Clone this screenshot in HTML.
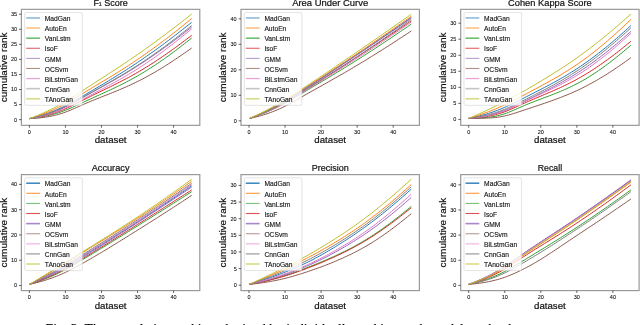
<!DOCTYPE html><html><head><meta charset="utf-8"><style>html,body{margin:0;padding:0;background:#fff;width:640px;height:325px;overflow:hidden}svg{display:block;will-change:transform}</style></head><body><svg width="640" height="325" viewBox="0 0 640 325">
<rect width="640" height="325" fill="#fff"/>
<polyline points="29.40,118.62 31.20,118.19 33.00,117.74 34.81,117.28 36.61,116.79 38.41,116.29 40.21,115.76 42.02,115.21 43.82,114.64 45.62,114.04 47.42,113.42 49.23,112.77 51.03,112.10 52.83,111.40 54.63,110.68 56.44,109.92 58.24,109.14 60.04,108.33 61.84,107.48 63.65,106.61 65.45,105.71 67.25,104.78 69.06,103.83 70.86,102.85 72.66,101.85 74.46,100.84 76.27,99.81 78.07,98.78 79.87,97.73 81.67,96.69 83.47,95.63 85.28,94.58 87.08,93.53 88.88,92.47 90.69,91.42 92.49,90.36 94.29,89.30 96.09,88.24 97.90,87.18 99.70,86.11 101.50,85.05 103.30,83.97 105.10,82.90 106.91,81.82 108.71,80.73 110.51,79.64 112.31,78.54 114.12,77.44 115.92,76.33 117.72,75.22 119.53,74.09 121.33,72.97 123.13,71.83 124.93,70.68 126.73,69.53 128.54,68.37 130.34,67.20 132.14,66.03 133.94,64.84 135.75,63.65 137.55,62.44 139.35,61.23 141.16,60.01 142.96,58.78 144.76,57.54 146.56,56.29 148.37,55.03 150.17,53.77 151.97,52.49 153.77,51.21 155.57,49.92 157.38,48.61 159.18,47.31 160.98,45.99 162.78,44.66 164.59,43.32 166.39,41.98 168.19,40.63 170.00,39.27 171.80,37.90 173.60,36.53 175.40,35.14 177.21,33.75 179.01,32.36 180.81,30.95 182.61,29.54 184.41,28.12 186.22,26.70 188.02,25.27 189.82,23.84 191.62,22.40" fill="none" stroke="#1f77b4" stroke-width="1.0" stroke-opacity="1.0" stroke-linejoin="round"/>
<polyline points="29.40,118.64 31.20,118.09 33.00,117.52 34.81,116.94 36.61,116.34 38.41,115.73 40.21,115.09 42.02,114.43 43.82,113.75 45.62,113.05 47.42,112.32 49.23,111.57 51.03,110.80 52.83,110.00 54.63,109.18 56.44,108.33 58.24,107.46 60.04,106.56 61.84,105.63 63.65,104.67 65.45,103.69 67.25,102.69 69.06,101.66 70.86,100.61 72.66,99.55 74.46,98.48 76.27,97.40 78.07,96.31 79.87,95.21 81.67,94.12 83.47,93.02 85.28,91.93 87.08,90.84 88.88,89.75 90.69,88.67 92.49,87.58 94.29,86.50 96.09,85.42 97.90,84.35 99.70,83.27 101.50,82.19 103.30,81.10 105.10,80.02 106.91,78.93 108.71,77.84 110.51,76.75 112.31,75.65 114.12,74.55 115.92,73.44 117.72,72.32 119.53,71.20 121.33,70.06 123.13,68.93 124.93,67.78 126.73,66.62 128.54,65.45 130.34,64.28 132.14,63.09 133.94,61.90 135.75,60.69 137.55,59.47 139.35,58.24 141.16,57.01 142.96,55.76 144.76,54.50 146.56,53.23 148.37,51.95 150.17,50.66 151.97,49.36 153.77,48.05 155.57,46.73 157.38,45.41 159.18,44.07 160.98,42.72 162.78,41.37 164.59,40.00 166.39,38.63 168.19,37.25 170.00,35.86 171.80,34.46 173.60,33.05 175.40,31.63 177.21,30.21 179.01,28.78 180.81,27.34 182.61,25.89 184.41,24.43 186.22,22.97 188.02,21.51 189.82,20.04 191.62,18.56" fill="none" stroke="#ff7f0e" stroke-width="1.0" stroke-opacity="1.0" stroke-linejoin="round"/>
<polyline points="29.40,118.60 31.20,118.41 33.00,118.20 34.81,117.98 36.61,117.73 38.41,117.46 40.21,117.17 42.02,116.85 43.82,116.51 45.62,116.15 47.42,115.75 49.23,115.34 51.03,114.90 52.83,114.43 54.63,113.93 56.44,113.40 58.24,112.84 60.04,112.24 61.84,111.62 63.65,110.95 65.45,110.26 67.25,109.54 69.06,108.78 70.86,108.01 72.66,107.21 74.46,106.39 76.27,105.56 78.07,104.73 79.87,103.89 81.67,103.04 83.47,102.20 85.28,101.36 87.08,100.52 88.88,99.69 90.69,98.86 92.49,98.04 94.29,97.22 96.09,96.40 97.90,95.58 99.70,94.76 101.50,93.94 103.30,93.11 105.10,92.29 106.91,91.46 108.71,90.62 110.51,89.78 112.31,88.93 114.12,88.08 115.92,87.21 117.72,86.34 119.53,85.46 121.33,84.56 123.13,83.66 124.93,82.74 126.73,81.81 128.54,80.86 130.34,79.91 132.14,78.93 133.94,77.94 135.75,76.93 137.55,75.91 139.35,74.87 141.16,73.82 142.96,72.74 144.76,71.65 146.56,70.55 148.37,69.42 150.17,68.28 151.97,67.12 153.77,65.95 155.57,64.76 157.38,63.55 159.18,62.33 160.98,61.09 162.78,59.84 164.59,58.57 166.39,57.29 168.19,55.99 170.00,54.68 171.80,53.36 173.60,52.02 175.40,50.67 177.21,49.31 179.01,47.93 180.81,46.54 182.61,45.14 184.41,43.73 186.22,42.32 188.02,40.89 189.82,39.45 191.62,38.01" fill="none" stroke="#2ca02c" stroke-width="1.0" stroke-opacity="1.0" stroke-linejoin="round"/>
<polyline points="29.40,118.59 31.20,118.34 33.00,118.08 34.81,117.79 36.61,117.48 38.41,117.15 40.21,116.79 42.02,116.41 43.82,116.00 45.62,115.56 47.42,115.10 49.23,114.61 51.03,114.09 52.83,113.55 54.63,112.97 56.44,112.36 58.24,111.71 60.04,111.04 61.84,110.32 63.65,109.57 65.45,108.79 67.25,107.98 69.06,107.13 70.86,106.27 72.66,105.38 74.46,104.48 76.27,103.56 78.07,102.64 79.87,101.72 81.67,100.80 83.47,99.89 85.28,98.97 87.08,98.07 88.88,97.17 90.69,96.28 92.49,95.39 94.29,94.51 96.09,93.64 97.90,92.77 99.70,91.90 101.50,91.03 103.30,90.16 105.10,89.28 106.91,88.41 108.71,87.54 110.51,86.66 112.31,85.77 114.12,84.88 115.92,83.98 117.72,83.08 119.53,82.16 121.33,81.24 123.13,80.31 124.93,79.36 126.73,78.41 128.54,77.44 130.34,76.46 132.14,75.47 133.94,74.46 135.75,73.44 137.55,72.40 139.35,71.35 141.16,70.29 142.96,69.21 144.76,68.12 146.56,67.01 148.37,65.89 150.17,64.75 151.97,63.61 153.77,62.44 155.57,61.27 157.38,60.08 159.18,58.88 160.98,57.67 162.78,56.44 164.59,55.21 166.39,53.96 168.19,52.70 170.00,51.42 171.80,50.14 173.60,48.84 175.40,47.54 177.21,46.22 179.01,44.89 180.81,43.56 182.61,42.21 184.41,40.86 186.22,39.49 188.02,38.13 189.82,36.75 191.62,35.37" fill="none" stroke="#d62728" stroke-width="1.0" stroke-opacity="1.0" stroke-linejoin="round"/>
<polyline points="29.40,118.61 31.20,118.25 33.00,117.86 34.81,117.46 36.61,117.04 38.41,116.59 40.21,116.13 42.02,115.64 43.82,115.12 45.62,114.58 47.42,114.02 49.23,113.43 51.03,112.81 52.83,112.17 54.63,111.49 56.44,110.79 58.24,110.06 60.04,109.29 61.84,108.49 63.65,107.67 65.45,106.81 67.25,105.92 69.06,105.00 70.86,104.07 72.66,103.11 74.46,102.14 76.27,101.15 78.07,100.16 79.87,99.16 81.67,98.15 83.47,97.15 85.28,96.15 87.08,95.14 88.88,94.14 90.69,93.15 92.49,92.15 94.29,91.15 96.09,90.16 97.90,89.16 99.70,88.17 101.50,87.17 103.30,86.17 105.10,85.16 106.91,84.15 108.71,83.14 110.51,82.12 112.31,81.10 114.12,80.07 115.92,79.04 117.72,77.99 119.53,76.94 121.33,75.89 123.13,74.82 124.93,73.75 126.73,72.67 128.54,71.57 130.34,70.47 132.14,69.36 133.94,68.24 135.75,67.11 137.55,65.96 139.35,64.81 141.16,63.64 142.96,62.47 144.76,61.28 146.56,60.09 148.37,58.88 150.17,57.66 151.97,56.43 153.77,55.20 155.57,53.95 157.38,52.69 159.18,51.42 160.98,50.15 162.78,48.86 164.59,47.57 166.39,46.26 168.19,44.95 170.00,43.62 171.80,42.29 173.60,40.95 175.40,39.60 177.21,38.24 179.01,36.87 180.81,35.50 182.61,34.12 184.41,32.73 186.22,31.33 188.02,29.93 189.82,28.53 191.62,27.12" fill="none" stroke="#9467bd" stroke-width="1.0" stroke-opacity="1.0" stroke-linejoin="round"/>
<polyline points="29.40,118.61 31.20,118.52 33.00,118.42 34.81,118.30 36.61,118.15 38.41,117.99 40.21,117.80 42.02,117.59 43.82,117.36 45.62,117.10 47.42,116.82 49.23,116.51 51.03,116.17 52.83,115.80 54.63,115.39 56.44,114.95 58.24,114.47 60.04,113.95 61.84,113.39 63.65,112.78 65.45,112.13 67.25,111.45 69.06,110.73 70.86,109.98 72.66,109.21 74.46,108.41 76.27,107.61 78.07,106.80 79.87,105.99 81.67,105.19 83.47,104.39 85.28,103.61 87.08,102.83 88.88,102.06 90.69,101.31 92.49,100.57 94.29,99.83 96.09,99.10 97.90,98.38 99.70,97.67 101.50,96.95 103.30,96.24 105.10,95.53 106.91,94.82 108.71,94.10 110.51,93.38 112.31,92.66 114.12,91.93 115.92,91.20 117.72,90.46 119.53,89.71 121.33,88.95 123.13,88.18 124.93,87.40 126.73,86.60 128.54,85.79 130.34,84.97 132.14,84.13 133.94,83.27 135.75,82.40 137.55,81.52 139.35,80.61 141.16,79.69 142.96,78.76 144.76,77.80 146.56,76.84 148.37,75.85 150.17,74.85 151.97,73.83 153.77,72.80 155.57,71.75 157.38,70.69 159.18,69.61 160.98,68.52 162.78,67.41 164.59,66.29 166.39,65.16 168.19,64.01 170.00,62.85 171.80,61.67 173.60,60.49 175.40,59.29 177.21,58.08 179.01,56.86 180.81,55.63 182.61,54.39 184.41,53.13 186.22,51.87 188.02,50.61 189.82,49.33 191.62,48.05" fill="none" stroke="#8c564b" stroke-width="1.0" stroke-opacity="1.0" stroke-linejoin="round"/>
<polyline points="29.40,118.60 31.20,118.31 33.00,118.01 34.81,117.68 36.61,117.34 38.41,116.97 40.21,116.57 42.02,116.16 43.82,115.71 45.62,115.24 47.42,114.75 49.23,114.23 51.03,113.68 52.83,113.10 54.63,112.49 56.44,111.85 58.24,111.18 60.04,110.47 61.84,109.73 63.65,108.96 65.45,108.15 67.25,107.31 69.06,106.45 70.86,105.56 72.66,104.64 74.46,103.71 76.27,102.77 78.07,101.82 79.87,100.86 81.67,99.90 83.47,98.93 85.28,97.97 87.08,97.02 88.88,96.06 90.69,95.11 92.49,94.16 94.29,93.21 96.09,92.26 97.90,91.31 99.70,90.36 101.50,89.41 103.30,88.45 105.10,87.49 106.91,86.53 108.71,85.56 110.51,84.59 112.31,83.61 114.12,82.62 115.92,81.63 117.72,80.63 119.53,79.61 121.33,78.59 123.13,77.56 124.93,76.52 126.73,75.46 128.54,74.40 130.34,73.32 132.14,72.22 133.94,71.12 135.75,70.00 137.55,68.87 139.35,67.72 141.16,66.56 142.96,65.39 144.76,64.20 146.56,62.99 148.37,61.78 150.17,60.55 151.97,59.30 153.77,58.04 155.57,56.77 157.38,55.49 159.18,54.19 160.98,52.88 162.78,51.56 164.59,50.22 166.39,48.87 168.19,47.51 170.00,46.14 171.80,44.76 173.60,43.36 175.40,41.96 177.21,40.54 179.01,39.11 180.81,37.68 182.61,36.23 184.41,34.77 186.22,33.31 188.02,31.84 189.82,30.36 191.62,28.88" fill="none" stroke="#e377c2" stroke-width="1.0" stroke-opacity="1.0" stroke-linejoin="round"/>
<polyline points="29.40,118.61 31.20,118.23 33.00,117.84 34.81,117.43 36.61,116.99 38.41,116.54 40.21,116.06 42.02,115.56 43.82,115.03 45.62,114.48 47.42,113.91 49.23,113.30 51.03,112.68 52.83,112.02 54.63,111.34 56.44,110.63 58.24,109.88 60.04,109.11 61.84,108.30 63.65,107.46 65.45,106.59 67.25,105.70 69.06,104.77 70.86,103.83 72.66,102.86 74.46,101.88 76.27,100.89 78.07,99.88 79.87,98.88 81.67,97.87 83.47,96.85 85.28,95.84 87.08,94.83 88.88,93.83 90.69,92.82 92.49,91.82 94.29,90.81 96.09,89.81 97.90,88.81 99.70,87.80 101.50,86.79 103.30,85.78 105.10,84.77 106.91,83.76 108.71,82.73 110.51,81.71 112.31,80.68 114.12,79.64 115.92,78.59 117.72,77.54 119.53,76.48 121.33,75.42 123.13,74.34 124.93,73.25 126.73,72.16 128.54,71.05 130.34,69.94 132.14,68.81 133.94,67.67 135.75,66.52 137.55,65.36 139.35,64.19 141.16,63.01 142.96,61.81 144.76,60.60 146.56,59.39 148.37,58.16 150.17,56.92 151.97,55.66 153.77,54.40 155.57,53.13 157.38,51.84 159.18,50.55 160.98,49.25 162.78,47.93 164.59,46.61 166.39,45.27 168.19,43.92 170.00,42.57 171.80,41.20 173.60,39.83 175.40,38.45 177.21,37.05 179.01,35.65 180.81,34.24 182.61,32.83 184.41,31.40 186.22,29.97 188.02,28.53 189.82,27.09 191.62,25.64" fill="none" stroke="#7f7f7f" stroke-width="1.0" stroke-opacity="1.0" stroke-linejoin="round"/>
<polyline points="29.40,118.66 31.20,117.97 33.00,117.28 34.81,116.56 36.61,115.84 38.41,115.09 40.21,114.33 42.02,113.55 43.82,112.75 45.62,111.93 47.42,111.09 49.23,110.23 51.03,109.34 52.83,108.44 54.63,107.51 56.44,106.56 58.24,105.59 60.04,104.59 61.84,103.57 63.65,102.53 65.45,101.46 67.25,100.37 69.06,99.27 70.86,98.15 72.66,97.01 74.46,95.86 76.27,94.71 78.07,93.55 79.87,92.38 81.67,91.22 83.47,90.05 85.28,88.89 87.08,87.72 88.88,86.56 90.69,85.40 92.49,84.24 94.29,83.09 96.09,81.93 97.90,80.77 99.70,79.61 101.50,78.46 103.30,77.30 105.10,76.13 106.91,74.97 108.71,73.80 110.51,72.64 112.31,71.46 114.12,70.29 115.92,69.11 117.72,67.92 119.53,66.73 121.33,65.54 123.13,64.34 124.93,63.13 126.73,61.92 128.54,60.70 130.34,59.47 132.14,58.24 133.94,57.00 135.75,55.76 137.55,54.51 139.35,53.25 141.16,51.98 142.96,50.71 144.76,49.43 146.56,48.15 148.37,46.86 150.17,45.56 151.97,44.26 153.77,42.95 155.57,41.63 157.38,40.31 159.18,38.98 160.98,37.65 162.78,36.31 164.59,34.96 166.39,33.61 168.19,32.26 170.00,30.89 171.80,29.53 173.60,28.15 175.40,26.77 177.21,25.39 179.01,24.00 180.81,22.61 182.61,21.21 184.41,19.80 186.22,18.40 188.02,16.98 189.82,15.57 191.62,14.15" fill="none" stroke="#bcbd22" stroke-width="1.0" stroke-opacity="1.0" stroke-linejoin="round"/>
<rect x="24.70" y="12.55" width="57.6" height="92.8" rx="1.5" fill="#fff" fill-opacity="0.8" stroke="#d0d0d0" stroke-width="0.6"/>
<line x1="26.20" y1="17.95" x2="40.00" y2="17.95" stroke="#1f77b4" stroke-width="1.6" stroke-opacity="0.5"/>
<text x="44.80" y="21.15" font-family="Liberation Sans, sans-serif" stroke="#111" stroke-width="0.12" font-size="6.7" fill="#111">MadGan</text>
<line x1="26.20" y1="28.05" x2="40.00" y2="28.05" stroke="#ff7f0e" stroke-width="1.6" stroke-opacity="0.5"/>
<text x="44.80" y="31.25" font-family="Liberation Sans, sans-serif" stroke="#111" stroke-width="0.12" font-size="6.7" fill="#111">AutoEn</text>
<line x1="26.20" y1="38.15" x2="40.00" y2="38.15" stroke="#2ca02c" stroke-width="1.2" stroke-opacity="0.9"/>
<text x="44.80" y="41.35" font-family="Liberation Sans, sans-serif" stroke="#111" stroke-width="0.12" font-size="6.7" fill="#111">VanLstm</text>
<line x1="26.20" y1="48.25" x2="40.00" y2="48.25" stroke="#d62728" stroke-width="1.0" stroke-opacity="0.8"/>
<text x="44.80" y="51.45" font-family="Liberation Sans, sans-serif" stroke="#111" stroke-width="0.12" font-size="6.7" fill="#111">IsoF</text>
<line x1="26.20" y1="58.35" x2="40.00" y2="58.35" stroke="#9467bd" stroke-width="0.9" stroke-opacity="0.8"/>
<text x="44.80" y="61.55" font-family="Liberation Sans, sans-serif" stroke="#111" stroke-width="0.12" font-size="6.7" fill="#111">GMM</text>
<line x1="26.20" y1="68.45" x2="40.00" y2="68.45" stroke="#8c564b" stroke-width="0.9" stroke-opacity="0.8"/>
<text x="44.80" y="71.65" font-family="Liberation Sans, sans-serif" stroke="#111" stroke-width="0.12" font-size="6.7" fill="#111">OCSvm</text>
<line x1="26.20" y1="78.55" x2="40.00" y2="78.55" stroke="#e377c2" stroke-width="1.2" stroke-opacity="0.7"/>
<text x="44.80" y="81.75" font-family="Liberation Sans, sans-serif" stroke="#111" stroke-width="0.12" font-size="6.7" fill="#111">BiLstmGan</text>
<line x1="26.20" y1="88.65" x2="40.00" y2="88.65" stroke="#7f7f7f" stroke-width="1.6" stroke-opacity="0.45"/>
<text x="44.80" y="91.85" font-family="Liberation Sans, sans-serif" stroke="#111" stroke-width="0.12" font-size="6.7" fill="#111">CnnGan</text>
<line x1="26.20" y1="98.75" x2="40.00" y2="98.75" stroke="#bcbd22" stroke-width="1.6" stroke-opacity="0.55"/>
<text x="44.80" y="101.95" font-family="Liberation Sans, sans-serif" stroke="#111" stroke-width="0.12" font-size="6.7" fill="#111">TAnoGan</text>
<rect x="21.40" y="9.35" width="178.4" height="116.0" fill="none" stroke="#999" stroke-width="1.2"/>
<line x1="29.40" y1="125.35" x2="29.40" y2="127.75" stroke="#000" stroke-width="0.6"/>
<text x="29.40" y="133.55" font-family="Liberation Sans, sans-serif" stroke="#000" stroke-width="0.08" font-size="5.5" fill="#111" text-anchor="middle">0</text>
<line x1="65.45" y1="125.35" x2="65.45" y2="127.75" stroke="#000" stroke-width="0.6"/>
<text x="65.45" y="133.55" font-family="Liberation Sans, sans-serif" stroke="#000" stroke-width="0.08" font-size="5.5" fill="#111" text-anchor="middle">10</text>
<line x1="101.50" y1="125.35" x2="101.50" y2="127.75" stroke="#000" stroke-width="0.6"/>
<text x="101.50" y="133.55" font-family="Liberation Sans, sans-serif" stroke="#000" stroke-width="0.08" font-size="5.5" fill="#111" text-anchor="middle">20</text>
<line x1="137.55" y1="125.35" x2="137.55" y2="127.75" stroke="#000" stroke-width="0.6"/>
<text x="137.55" y="133.55" font-family="Liberation Sans, sans-serif" stroke="#000" stroke-width="0.08" font-size="5.5" fill="#111" text-anchor="middle">30</text>
<line x1="173.60" y1="125.35" x2="173.60" y2="127.75" stroke="#000" stroke-width="0.6"/>
<text x="173.60" y="133.55" font-family="Liberation Sans, sans-serif" stroke="#000" stroke-width="0.08" font-size="5.5" fill="#111" text-anchor="middle">40</text>
<line x1="19.00" y1="119.63" x2="21.40" y2="119.63" stroke="#000" stroke-width="0.6"/>
<text x="17.10" y="121.53" font-family="Liberation Sans, sans-serif" stroke="#000" stroke-width="0.08" font-size="5.5" fill="#111" text-anchor="end">0</text>
<line x1="19.00" y1="104.56" x2="21.40" y2="104.56" stroke="#000" stroke-width="0.6"/>
<text x="17.10" y="106.47" font-family="Liberation Sans, sans-serif" stroke="#000" stroke-width="0.08" font-size="5.5" fill="#111" text-anchor="end">5</text>
<line x1="19.00" y1="89.50" x2="21.40" y2="89.50" stroke="#000" stroke-width="0.6"/>
<text x="17.10" y="91.40" font-family="Liberation Sans, sans-serif" stroke="#000" stroke-width="0.08" font-size="5.5" fill="#111" text-anchor="end">10</text>
<line x1="19.00" y1="74.44" x2="21.40" y2="74.44" stroke="#000" stroke-width="0.6"/>
<text x="17.10" y="76.34" font-family="Liberation Sans, sans-serif" stroke="#000" stroke-width="0.08" font-size="5.5" fill="#111" text-anchor="end">15</text>
<line x1="19.00" y1="59.37" x2="21.40" y2="59.37" stroke="#000" stroke-width="0.6"/>
<text x="17.10" y="61.27" font-family="Liberation Sans, sans-serif" stroke="#000" stroke-width="0.08" font-size="5.5" fill="#111" text-anchor="end">20</text>
<line x1="19.00" y1="44.30" x2="21.40" y2="44.30" stroke="#000" stroke-width="0.6"/>
<text x="17.10" y="46.20" font-family="Liberation Sans, sans-serif" stroke="#000" stroke-width="0.08" font-size="5.5" fill="#111" text-anchor="end">25</text>
<line x1="19.00" y1="29.24" x2="21.40" y2="29.24" stroke="#000" stroke-width="0.6"/>
<text x="17.10" y="31.14" font-family="Liberation Sans, sans-serif" stroke="#000" stroke-width="0.08" font-size="5.5" fill="#111" text-anchor="end">30</text>
<line x1="19.00" y1="14.17" x2="21.40" y2="14.17" stroke="#000" stroke-width="0.6"/>
<text x="17.10" y="16.07" font-family="Liberation Sans, sans-serif" stroke="#000" stroke-width="0.08" font-size="5.5" fill="#111" text-anchor="end">35</text>
<text x="110.60" y="5.80" font-family="Liberation Sans, sans-serif" stroke="#111" stroke-width="0.2" font-size="9" fill="#111" text-anchor="middle">F<tspan font-size="5.2" dy="0.4" dx="-0.3">1</tspan><tspan dy="-0.4"> Score</tspan></text>
<text x="110.60" y="143.45" font-family="Liberation Sans, sans-serif" stroke="#111" stroke-width="0.2" font-size="9.3" fill="#111" text-anchor="middle" textLength="31.7" lengthAdjust="spacingAndGlyphs">dataset</text>
<text transform="translate(6.60,67.35) rotate(-90)" x="0" y="0" font-family="Liberation Sans, sans-serif" stroke="#111" stroke-width="0.2" font-size="9.6" fill="#111" text-anchor="middle" textLength="69.6" lengthAdjust="spacingAndGlyphs">cumulative rank</text>
<polyline points="249.00,118.69 250.80,117.96 252.60,117.21 254.41,116.46 256.21,115.69 258.01,114.90 259.81,114.11 261.62,113.29 263.42,112.46 265.22,111.62 267.02,110.75 268.83,109.87 270.63,108.97 272.43,108.05 274.24,107.12 276.04,106.16 277.84,105.18 279.64,104.19 281.44,103.17 283.25,102.13 285.05,101.08 286.85,100.01 288.65,98.92 290.46,97.81 292.26,96.70 294.06,95.57 295.87,94.44 297.67,93.29 299.47,92.15 301.27,91.00 303.07,89.84 304.88,88.69 306.68,87.53 308.48,86.37 310.28,85.21 312.09,84.05 313.89,82.89 315.69,81.72 317.50,80.56 319.30,79.39 321.10,78.22 322.90,77.04 324.70,75.87 326.51,74.69 328.31,73.51 330.11,72.32 331.92,71.14 333.72,69.95 335.52,68.76 337.32,67.57 339.12,66.38 340.93,65.19 342.73,63.99 344.53,62.80 346.33,61.60 348.14,60.40 349.94,59.20 351.74,58.00 353.55,56.80 355.35,55.60 357.15,54.39 358.95,53.18 360.75,51.98 362.56,50.77 364.36,49.56 366.16,48.35 367.97,47.13 369.77,45.92 371.57,44.70 373.37,43.49 375.18,42.27 376.98,41.05 378.78,39.82 380.58,38.60 382.38,37.37 384.19,36.15 385.99,34.92 387.79,33.69 389.60,32.46 391.40,31.22 393.20,29.99 395.00,28.75 396.81,27.52 398.61,26.28 400.41,25.04 402.21,23.79 404.01,22.55 405.82,21.31 407.62,20.06 409.42,18.82 411.23,17.57" fill="none" stroke="#1f77b4" stroke-width="1.0" stroke-opacity="1.0" stroke-linejoin="round"/>
<polyline points="249.00,118.69 250.80,117.93 252.60,117.15 254.41,116.37 256.21,115.57 258.01,114.76 259.81,113.93 261.62,113.09 263.42,112.23 265.22,111.36 267.02,110.47 268.83,109.56 270.63,108.64 272.43,107.70 274.24,106.74 276.04,105.76 277.84,104.76 279.64,103.74 281.44,102.71 283.25,101.65 285.05,100.58 286.85,99.49 288.65,98.39 290.46,97.27 292.26,96.14 294.06,95.00 295.87,93.85 297.67,92.70 299.47,91.54 301.27,90.38 303.07,89.22 304.88,88.05 306.68,86.89 308.48,85.72 310.28,84.56 312.09,83.39 313.89,82.22 315.69,81.05 317.50,79.88 319.30,78.70 321.10,77.53 322.90,76.35 324.70,75.17 326.51,73.99 328.31,72.81 330.11,71.63 331.92,70.44 333.72,69.25 335.52,68.06 337.32,66.87 339.12,65.67 340.93,64.48 342.73,63.28 344.53,62.08 346.33,60.87 348.14,59.67 349.94,58.46 351.74,57.26 353.55,56.05 355.35,54.83 357.15,53.62 358.95,52.40 360.75,51.19 362.56,49.97 364.36,48.75 366.16,47.52 367.97,46.30 369.77,45.07 371.57,43.84 373.37,42.61 375.18,41.37 376.98,40.14 378.78,38.90 380.58,37.66 382.38,36.42 384.19,35.17 385.99,33.93 387.79,32.68 389.60,31.43 391.40,30.18 393.20,28.93 395.00,27.67 396.81,26.41 398.61,25.15 400.41,23.89 402.21,22.63 404.01,21.37 405.82,20.10 407.62,18.83 409.42,17.57 411.23,16.30" fill="none" stroke="#ff7f0e" stroke-width="1.0" stroke-opacity="1.0" stroke-linejoin="round"/>
<polyline points="249.00,118.67 250.80,118.07 252.60,117.45 254.41,116.83 256.21,116.18 258.01,115.52 259.81,114.85 261.62,114.15 263.42,113.44 265.22,112.71 267.02,111.95 268.83,111.18 270.63,110.38 272.43,109.57 274.24,108.73 276.04,107.87 277.84,106.98 279.64,106.07 281.44,105.14 283.25,104.19 285.05,103.21 286.85,102.21 288.65,101.19 290.46,100.16 292.26,99.11 294.06,98.05 295.87,96.99 297.67,95.92 299.47,94.84 301.27,93.76 303.07,92.69 304.88,91.61 306.68,90.53 308.48,89.46 310.28,88.38 312.09,87.31 313.89,86.24 315.69,85.17 317.50,84.09 319.30,83.02 321.10,81.95 322.90,80.87 324.70,79.80 326.51,78.72 328.31,77.64 330.11,76.56 331.92,75.47 333.72,74.38 335.52,73.29 337.32,72.20 339.12,71.11 340.93,70.01 342.73,68.90 344.53,67.80 346.33,66.69 348.14,65.57 349.94,64.45 351.74,63.33 353.55,62.21 355.35,61.08 357.15,59.94 358.95,58.80 360.75,57.66 362.56,56.51 364.36,55.36 366.16,54.21 367.97,53.05 369.77,51.88 371.57,50.72 373.37,49.55 375.18,48.37 376.98,47.20 378.78,46.01 380.58,44.83 382.38,43.64 384.19,42.45 385.99,41.25 387.79,40.05 389.60,38.85 391.40,37.64 393.20,36.43 395.00,35.22 396.81,34.00 398.61,32.78 400.41,31.56 402.21,30.33 404.01,29.10 405.82,27.87 407.62,26.64 409.42,25.40 411.23,24.16" fill="none" stroke="#2ca02c" stroke-width="1.0" stroke-opacity="1.0" stroke-linejoin="round"/>
<polyline points="249.00,118.68 250.80,118.02 252.60,117.34 254.41,116.66 256.21,115.96 258.01,115.25 259.81,114.51 261.62,113.77 263.42,113.00 265.22,112.21 267.02,111.41 268.83,110.59 270.63,109.75 272.43,108.88 274.24,108.00 276.04,107.10 277.84,106.17 279.64,105.22 281.44,104.25 283.25,103.26 285.05,102.25 286.85,101.22 288.65,100.17 290.46,99.10 292.26,98.02 294.06,96.93 295.87,95.83 297.67,94.72 299.47,93.61 301.27,92.49 303.07,91.37 304.88,90.25 306.68,89.13 308.48,88.01 310.28,86.88 312.09,85.75 313.89,84.63 315.69,83.50 317.50,82.36 319.30,81.23 321.10,80.09 322.90,78.95 324.70,77.81 326.51,76.67 328.31,75.52 330.11,74.37 331.92,73.22 333.72,72.07 335.52,70.92 337.32,69.76 339.12,68.60 340.93,67.44 342.73,66.28 344.53,65.12 346.33,63.95 348.14,62.78 349.94,61.62 351.74,60.45 353.55,59.27 355.35,58.10 357.15,56.93 358.95,55.75 360.75,54.57 362.56,53.39 364.36,52.21 366.16,51.03 367.97,49.84 369.77,48.66 371.57,47.47 373.37,46.28 375.18,45.09 376.98,43.89 378.78,42.70 380.58,41.50 382.38,40.30 384.19,39.10 385.99,37.89 387.79,36.69 389.60,35.48 391.40,34.27 393.20,33.06 395.00,31.85 396.81,30.64 398.61,29.42 400.41,28.20 402.21,26.98 404.01,25.76 405.82,24.54 407.62,23.32 409.42,22.09 411.23,20.87" fill="none" stroke="#d62728" stroke-width="1.0" stroke-opacity="1.0" stroke-linejoin="round"/>
<polyline points="249.00,118.69 250.80,117.97 252.60,117.24 254.41,116.49 256.21,115.74 258.01,114.97 259.81,114.18 261.62,113.38 263.42,112.56 265.22,111.72 267.02,110.87 268.83,110.00 270.63,109.11 272.43,108.20 274.24,107.27 276.04,106.32 277.84,105.35 279.64,104.36 281.44,103.36 283.25,102.33 285.05,101.28 286.85,100.21 288.65,99.13 290.46,98.03 292.26,96.92 294.06,95.80 295.87,94.67 297.67,93.54 299.47,92.40 301.27,91.25 303.07,90.10 304.88,88.96 306.68,87.81 308.48,86.65 310.28,85.50 312.09,84.35 313.89,83.19 315.69,82.04 317.50,80.88 319.30,79.72 321.10,78.56 322.90,77.39 324.70,76.23 326.51,75.06 328.31,73.89 330.11,72.71 331.92,71.54 333.72,70.36 335.52,69.18 337.32,68.00 339.12,66.82 340.93,65.63 342.73,64.45 344.53,63.26 346.33,62.07 348.14,60.88 349.94,59.68 351.74,58.49 353.55,57.29 355.35,56.09 357.15,54.89 358.95,53.69 360.75,52.49 362.56,51.28 364.36,50.08 366.16,48.87 367.97,47.66 369.77,46.45 371.57,45.23 373.37,44.02 375.18,42.80 376.98,41.58 378.78,40.36 380.58,39.14 382.38,37.91 384.19,36.68 385.99,35.46 387.79,34.23 389.60,32.99 391.40,31.76 393.20,30.52 395.00,29.28 396.81,28.05 398.61,26.80 400.41,25.56 402.21,24.32 404.01,23.07 405.82,21.82 407.62,20.57 409.42,19.33 411.23,18.07" fill="none" stroke="#9467bd" stroke-width="1.0" stroke-opacity="1.0" stroke-linejoin="round"/>
<polyline points="249.00,118.62 250.80,118.22 252.60,117.81 254.41,117.39 256.21,116.94 258.01,116.46 259.81,115.97 261.62,115.45 263.42,114.91 265.22,114.34 267.02,113.74 268.83,113.12 270.63,112.47 272.43,111.79 274.24,111.08 276.04,110.34 277.84,109.57 279.64,108.77 281.44,107.94 283.25,107.07 285.05,106.17 286.85,105.24 288.65,104.29 290.46,103.31 292.26,102.32 294.06,101.31 295.87,100.29 297.67,99.26 299.47,98.23 301.27,97.20 303.07,96.16 304.88,95.13 306.68,94.11 308.48,93.09 310.28,92.07 312.09,91.05 313.89,90.04 315.69,89.03 317.50,88.02 319.30,87.01 321.10,86.00 322.90,84.99 324.70,83.98 326.51,82.96 328.31,81.95 330.11,80.93 331.92,79.91 333.72,78.89 335.52,77.87 337.32,76.84 339.12,75.81 340.93,74.77 342.73,73.74 344.53,72.69 346.33,71.65 348.14,70.59 349.94,69.54 351.74,68.48 353.55,67.41 355.35,66.34 357.15,65.27 358.95,64.18 360.75,63.10 362.56,62.01 364.36,60.92 366.16,59.82 367.97,58.71 369.77,57.60 371.57,56.49 373.37,55.38 375.18,54.26 376.98,53.13 378.78,52.00 380.58,50.87 382.38,49.73 384.19,48.59 385.99,47.44 387.79,46.29 389.60,45.14 391.40,43.98 393.20,42.82 395.00,41.66 396.81,40.49 398.61,39.31 400.41,38.14 402.21,36.96 404.01,35.78 405.82,34.59 407.62,33.40 409.42,32.21 411.23,31.02" fill="none" stroke="#8c564b" stroke-width="1.0" stroke-opacity="1.0" stroke-linejoin="round"/>
<polyline points="249.00,118.67 250.80,118.04 252.60,117.39 254.41,116.73 256.21,116.05 258.01,115.35 259.81,114.65 261.62,113.92 263.42,113.17 265.22,112.41 267.02,111.62 268.83,110.82 270.63,110.00 272.43,109.15 274.24,108.29 276.04,107.40 277.84,106.49 279.64,105.56 281.44,104.60 283.25,103.63 285.05,102.63 286.85,101.61 288.65,100.57 290.46,99.52 292.26,98.45 294.06,97.38 295.87,96.29 297.67,95.20 299.47,94.10 301.27,93.00 303.07,91.90 304.88,90.80 306.68,89.70 308.48,88.59 310.28,87.49 312.09,86.39 313.89,85.28 315.69,84.18 317.50,83.07 319.30,81.96 321.10,80.85 322.90,79.74 324.70,78.63 326.51,77.51 328.31,76.40 330.11,75.28 331.92,74.16 333.72,73.03 335.52,71.91 337.32,70.78 339.12,69.64 340.93,68.51 342.73,67.37 344.53,66.23 346.33,65.09 348.14,63.95 349.94,62.80 351.74,61.65 353.55,60.50 355.35,59.34 357.15,58.18 358.95,57.02 360.75,55.85 362.56,54.69 364.36,53.52 366.16,52.34 367.97,51.17 369.77,49.99 371.57,48.80 373.37,47.62 375.18,46.43 376.98,45.24 378.78,44.05 380.58,42.85 382.38,41.66 384.19,40.45 385.99,39.25 387.79,38.04 389.60,36.84 391.40,35.62 393.20,34.41 395.00,33.19 396.81,31.97 398.61,30.75 400.41,29.52 402.21,28.30 404.01,27.07 405.82,25.84 407.62,24.60 409.42,23.37 411.23,22.13" fill="none" stroke="#e377c2" stroke-width="1.0" stroke-opacity="1.0" stroke-linejoin="round"/>
<polyline points="249.00,118.68 250.80,118.00 252.60,117.30 254.41,116.59 256.21,115.87 258.01,115.14 259.81,114.38 261.62,113.61 263.42,112.83 265.22,112.02 267.02,111.20 268.83,110.36 270.63,109.49 272.43,108.61 274.24,107.71 276.04,106.79 277.84,105.84 279.64,104.88 281.44,103.89 283.25,102.89 285.05,101.86 286.85,100.81 288.65,99.75 290.46,98.67 292.26,97.58 294.06,96.48 295.87,95.37 297.67,94.25 299.47,93.13 301.27,92.01 303.07,90.89 304.88,89.77 306.68,88.65 308.48,87.53 310.28,86.41 312.09,85.29 313.89,84.16 315.69,83.04 317.50,81.92 319.30,80.80 321.10,79.68 322.90,78.55 324.70,77.42 326.51,76.30 328.31,75.16 330.11,74.03 331.92,72.89 333.72,71.76 335.52,70.61 337.32,69.47 339.12,68.32 340.93,67.17 342.73,66.02 344.53,64.86 346.33,63.70 348.14,62.53 349.94,61.36 351.74,60.19 353.55,59.01 355.35,57.83 357.15,56.64 358.95,55.45 360.75,54.26 362.56,53.06 364.36,51.86 366.16,50.65 367.97,49.44 369.77,48.23 371.57,47.01 373.37,45.79 375.18,44.56 376.98,43.33 378.78,42.10 380.58,40.87 382.38,39.63 384.19,38.38 385.99,37.14 387.79,35.89 389.60,34.63 391.40,33.38 393.20,32.11 395.00,30.85 396.81,29.58 398.61,28.31 400.41,27.04 402.21,25.76 404.01,24.48 405.82,23.20 407.62,21.91 409.42,20.63 411.23,19.34" fill="none" stroke="#7f7f7f" stroke-width="1.0" stroke-opacity="1.0" stroke-linejoin="round"/>
<polyline points="249.00,118.70 250.80,117.89 252.60,117.08 254.41,116.25 256.21,115.41 258.01,114.56 259.81,113.70 261.62,112.82 263.42,111.93 265.22,111.02 267.02,110.09 268.83,109.15 270.63,108.20 272.43,107.22 274.24,106.23 276.04,105.22 277.84,104.19 279.64,103.15 281.44,102.09 283.25,101.01 285.05,99.91 286.85,98.79 288.65,97.67 290.46,96.53 292.26,95.37 294.06,94.21 295.87,93.04 297.67,91.87 299.47,90.69 301.27,89.50 303.07,88.31 304.88,87.13 306.68,85.93 308.48,84.74 310.28,83.55 312.09,82.35 313.89,81.15 315.69,79.95 317.50,78.75 319.30,77.54 321.10,76.34 322.90,75.13 324.70,73.92 326.51,72.71 328.31,71.49 330.11,70.27 331.92,69.05 333.72,67.83 335.52,66.61 337.32,65.39 339.12,64.16 340.93,62.94 342.73,61.71 344.53,60.48 346.33,59.25 348.14,58.02 349.94,56.79 351.74,55.56 353.55,54.32 355.35,53.09 357.15,51.86 358.95,50.62 360.75,49.38 362.56,48.14 364.36,46.91 366.16,45.67 367.97,44.42 369.77,43.18 371.57,41.94 373.37,40.69 375.18,39.45 376.98,38.20 378.78,36.95 380.58,35.70 382.38,34.45 384.19,33.20 385.99,31.94 387.79,30.69 389.60,29.43 391.40,28.18 393.20,26.92 395.00,25.66 396.81,24.40 398.61,23.13 400.41,21.87 402.21,20.60 404.01,19.34 405.82,18.07 407.62,16.80 409.42,15.54 411.23,14.27" fill="none" stroke="#bcbd22" stroke-width="1.0" stroke-opacity="1.0" stroke-linejoin="round"/>
<rect x="244.30" y="12.55" width="57.6" height="92.8" rx="1.5" fill="#fff" fill-opacity="0.8" stroke="#d0d0d0" stroke-width="0.6"/>
<line x1="245.80" y1="17.95" x2="259.60" y2="17.95" stroke="#1f77b4" stroke-width="1.6" stroke-opacity="0.5"/>
<text x="264.40" y="21.15" font-family="Liberation Sans, sans-serif" stroke="#111" stroke-width="0.12" font-size="6.7" fill="#111">MadGan</text>
<line x1="245.80" y1="28.05" x2="259.60" y2="28.05" stroke="#ff7f0e" stroke-width="1.6" stroke-opacity="0.5"/>
<text x="264.40" y="31.25" font-family="Liberation Sans, sans-serif" stroke="#111" stroke-width="0.12" font-size="6.7" fill="#111">AutoEn</text>
<line x1="245.80" y1="38.15" x2="259.60" y2="38.15" stroke="#2ca02c" stroke-width="1.2" stroke-opacity="0.9"/>
<text x="264.40" y="41.35" font-family="Liberation Sans, sans-serif" stroke="#111" stroke-width="0.12" font-size="6.7" fill="#111">VanLstm</text>
<line x1="245.80" y1="48.25" x2="259.60" y2="48.25" stroke="#d62728" stroke-width="1.0" stroke-opacity="0.8"/>
<text x="264.40" y="51.45" font-family="Liberation Sans, sans-serif" stroke="#111" stroke-width="0.12" font-size="6.7" fill="#111">IsoF</text>
<line x1="245.80" y1="58.35" x2="259.60" y2="58.35" stroke="#9467bd" stroke-width="0.9" stroke-opacity="0.8"/>
<text x="264.40" y="61.55" font-family="Liberation Sans, sans-serif" stroke="#111" stroke-width="0.12" font-size="6.7" fill="#111">GMM</text>
<line x1="245.80" y1="68.45" x2="259.60" y2="68.45" stroke="#8c564b" stroke-width="0.9" stroke-opacity="0.8"/>
<text x="264.40" y="71.65" font-family="Liberation Sans, sans-serif" stroke="#111" stroke-width="0.12" font-size="6.7" fill="#111">OCSvm</text>
<line x1="245.80" y1="78.55" x2="259.60" y2="78.55" stroke="#e377c2" stroke-width="1.2" stroke-opacity="0.7"/>
<text x="264.40" y="81.75" font-family="Liberation Sans, sans-serif" stroke="#111" stroke-width="0.12" font-size="6.7" fill="#111">BiLstmGan</text>
<line x1="245.80" y1="88.65" x2="259.60" y2="88.65" stroke="#7f7f7f" stroke-width="1.6" stroke-opacity="0.45"/>
<text x="264.40" y="91.85" font-family="Liberation Sans, sans-serif" stroke="#111" stroke-width="0.12" font-size="6.7" fill="#111">CnnGan</text>
<line x1="245.80" y1="98.75" x2="259.60" y2="98.75" stroke="#bcbd22" stroke-width="1.6" stroke-opacity="0.55"/>
<text x="264.40" y="101.95" font-family="Liberation Sans, sans-serif" stroke="#111" stroke-width="0.12" font-size="6.7" fill="#111">TAnoGan</text>
<rect x="241.00" y="9.35" width="178.4" height="116.0" fill="none" stroke="#999" stroke-width="1.2"/>
<line x1="249.00" y1="125.35" x2="249.00" y2="127.75" stroke="#000" stroke-width="0.6"/>
<text x="249.00" y="133.55" font-family="Liberation Sans, sans-serif" stroke="#000" stroke-width="0.08" font-size="5.5" fill="#111" text-anchor="middle">0</text>
<line x1="285.05" y1="125.35" x2="285.05" y2="127.75" stroke="#000" stroke-width="0.6"/>
<text x="285.05" y="133.55" font-family="Liberation Sans, sans-serif" stroke="#000" stroke-width="0.08" font-size="5.5" fill="#111" text-anchor="middle">10</text>
<line x1="321.10" y1="125.35" x2="321.10" y2="127.75" stroke="#000" stroke-width="0.6"/>
<text x="321.10" y="133.55" font-family="Liberation Sans, sans-serif" stroke="#000" stroke-width="0.08" font-size="5.5" fill="#111" text-anchor="middle">20</text>
<line x1="357.15" y1="125.35" x2="357.15" y2="127.75" stroke="#000" stroke-width="0.6"/>
<text x="357.15" y="133.55" font-family="Liberation Sans, sans-serif" stroke="#000" stroke-width="0.08" font-size="5.5" fill="#111" text-anchor="middle">30</text>
<line x1="393.20" y1="125.35" x2="393.20" y2="127.75" stroke="#000" stroke-width="0.6"/>
<text x="393.20" y="133.55" font-family="Liberation Sans, sans-serif" stroke="#000" stroke-width="0.08" font-size="5.5" fill="#111" text-anchor="middle">40</text>
<line x1="238.60" y1="120.80" x2="241.00" y2="120.80" stroke="#000" stroke-width="0.6"/>
<text x="236.70" y="122.70" font-family="Liberation Sans, sans-serif" stroke="#000" stroke-width="0.08" font-size="5.5" fill="#111" text-anchor="end">0</text>
<line x1="238.60" y1="95.31" x2="241.00" y2="95.31" stroke="#000" stroke-width="0.6"/>
<text x="236.70" y="97.21" font-family="Liberation Sans, sans-serif" stroke="#000" stroke-width="0.08" font-size="5.5" fill="#111" text-anchor="end">10</text>
<line x1="238.60" y1="69.82" x2="241.00" y2="69.82" stroke="#000" stroke-width="0.6"/>
<text x="236.70" y="71.72" font-family="Liberation Sans, sans-serif" stroke="#000" stroke-width="0.08" font-size="5.5" fill="#111" text-anchor="end">20</text>
<line x1="238.60" y1="44.33" x2="241.00" y2="44.33" stroke="#000" stroke-width="0.6"/>
<text x="236.70" y="46.23" font-family="Liberation Sans, sans-serif" stroke="#000" stroke-width="0.08" font-size="5.5" fill="#111" text-anchor="end">30</text>
<line x1="238.60" y1="18.84" x2="241.00" y2="18.84" stroke="#000" stroke-width="0.6"/>
<text x="236.70" y="20.74" font-family="Liberation Sans, sans-serif" stroke="#000" stroke-width="0.08" font-size="5.5" fill="#111" text-anchor="end">40</text>
<text x="330.20" y="5.80" font-family="Liberation Sans, sans-serif" stroke="#111" stroke-width="0.2" font-size="9.1" fill="#111" text-anchor="middle" textLength="76.1" lengthAdjust="spacingAndGlyphs">Area Under Curve</text>
<text x="330.20" y="143.45" font-family="Liberation Sans, sans-serif" stroke="#111" stroke-width="0.2" font-size="9.3" fill="#111" text-anchor="middle" textLength="31.7" lengthAdjust="spacingAndGlyphs">dataset</text>
<text transform="translate(226.20,67.35) rotate(-90)" x="0" y="0" font-family="Liberation Sans, sans-serif" stroke="#111" stroke-width="0.2" font-size="9.6" fill="#111" text-anchor="middle" textLength="69.6" lengthAdjust="spacingAndGlyphs">cumulative rank</text>
<polyline points="468.70,118.35 470.50,117.99 472.31,117.61 474.11,117.22 475.91,116.81 477.71,116.38 479.51,115.94 481.32,115.47 483.12,114.98 484.92,114.47 486.72,113.94 488.53,113.39 490.33,112.81 492.13,112.21 493.94,111.59 495.74,110.94 497.54,110.27 499.34,109.57 501.14,108.85 502.95,108.09 504.75,107.32 506.55,106.51 508.36,105.69 510.16,104.84 511.96,103.97 513.76,103.10 515.56,102.20 517.37,101.30 519.17,100.40 520.97,99.48 522.77,98.57 524.58,97.65 526.38,96.73 528.18,95.82 529.99,94.90 531.79,93.98 533.59,93.06 535.39,92.14 537.19,91.22 539.00,90.29 540.80,89.36 542.60,88.43 544.40,87.49 546.21,86.54 548.01,85.59 549.81,84.63 551.62,83.66 553.42,82.68 555.22,81.69 557.02,80.69 558.83,79.68 560.63,78.65 562.43,77.62 564.23,76.57 566.03,75.50 567.84,74.42 569.64,73.32 571.44,72.21 573.25,71.08 575.05,69.93 576.85,68.76 578.65,67.58 580.45,66.37 582.26,65.15 584.06,63.91 585.86,62.65 587.66,61.37 589.47,60.07 591.27,58.75 593.07,57.41 594.88,56.06 596.68,54.68 598.48,53.29 600.28,51.88 602.09,50.46 603.89,49.01 605.69,47.55 607.49,46.08 609.29,44.59 611.10,43.08 612.90,41.55 614.70,40.01 616.50,38.46 618.31,36.89 620.11,35.31 621.91,33.72 623.71,32.11 625.52,30.50 627.32,28.87 629.12,27.24 630.92,25.60" fill="none" stroke="#1f77b4" stroke-width="1.0" stroke-opacity="1.0" stroke-linejoin="round"/>
<polyline points="468.70,118.40 470.50,117.86 472.31,117.31 474.11,116.74 475.91,116.17 477.71,115.58 479.51,114.98 481.32,114.36 483.12,113.73 484.92,113.08 486.72,112.42 488.53,111.74 490.33,111.04 492.13,110.32 493.94,109.59 495.74,108.84 497.54,108.07 499.34,107.28 501.14,106.47 502.95,105.65 504.75,104.80 506.55,103.94 508.36,103.06 510.16,102.17 511.96,101.26 513.76,100.35 515.56,99.42 517.37,98.48 519.17,97.54 520.97,96.60 522.77,95.65 524.58,94.70 526.38,93.75 528.18,92.79 529.99,91.84 531.79,90.88 533.59,89.93 535.39,88.97 537.19,88.00 539.00,87.04 540.80,86.07 542.60,85.09 544.40,84.11 546.21,83.12 548.01,82.13 549.81,81.13 551.62,80.12 553.42,79.10 555.22,78.06 557.02,77.02 558.83,75.97 560.63,74.90 562.43,73.82 564.23,72.72 566.03,71.61 567.84,70.48 569.64,69.34 571.44,68.17 573.25,66.99 575.05,65.80 576.85,64.58 578.65,63.34 580.45,62.08 582.26,60.81 584.06,59.51 585.86,58.19 587.66,56.86 589.47,55.50 591.27,54.12 593.07,52.73 594.88,51.31 596.68,49.88 598.48,48.43 600.28,46.95 602.09,45.46 603.89,43.96 605.69,42.43 607.49,40.89 609.29,39.33 611.10,37.76 612.90,36.16 614.70,34.56 616.50,32.93 618.31,31.30 620.11,29.64 621.91,27.98 623.71,26.30 625.52,24.62 627.32,22.92 629.12,21.21 630.92,19.50" fill="none" stroke="#ff7f0e" stroke-width="1.0" stroke-opacity="1.0" stroke-linejoin="round"/>
<polyline points="468.70,118.41 470.50,118.37 472.31,118.32 474.11,118.25 475.91,118.18 477.71,118.09 479.51,118.00 481.32,117.88 483.12,117.75 484.92,117.60 486.72,117.43 488.53,117.24 490.33,117.01 492.13,116.76 493.94,116.47 495.74,116.14 497.54,115.76 499.34,115.33 501.14,114.85 502.95,114.31 504.75,113.73 506.55,113.09 508.36,112.41 510.16,111.70 511.96,110.95 513.76,110.17 515.56,109.38 517.37,108.59 519.17,107.79 520.97,107.00 522.77,106.22 524.58,105.45 526.38,104.69 528.18,103.94 529.99,103.21 531.79,102.50 533.59,101.79 535.39,101.09 537.19,100.40 539.00,99.72 540.80,99.04 542.60,98.36 544.40,97.68 546.21,97.00 548.01,96.32 549.81,95.63 551.62,94.94 553.42,94.23 555.22,93.52 557.02,92.80 558.83,92.07 560.63,91.32 562.43,90.56 564.23,89.78 566.03,88.98 567.84,88.17 569.64,87.33 571.44,86.47 573.25,85.59 575.05,84.69 576.85,83.76 578.65,82.81 580.45,81.83 582.26,80.83 584.06,79.80 585.86,78.74 587.66,77.66 589.47,76.56 591.27,75.42 593.07,74.27 594.88,73.08 596.68,71.88 598.48,70.65 600.28,69.40 602.09,68.12 603.89,66.83 605.69,65.51 607.49,64.17 609.29,62.81 611.10,61.43 612.90,60.03 614.70,58.61 616.50,57.18 618.31,55.72 620.11,54.25 621.91,52.77 623.71,51.27 625.52,49.76 627.32,48.24 629.12,46.71 630.92,45.17" fill="none" stroke="#2ca02c" stroke-width="1.0" stroke-opacity="1.0" stroke-linejoin="round"/>
<polyline points="468.70,118.32 470.50,118.23 472.31,118.12 474.11,118.00 475.91,117.85 477.71,117.69 479.51,117.50 481.32,117.29 483.12,117.05 484.92,116.79 486.72,116.50 488.53,116.18 490.33,115.84 492.13,115.46 493.94,115.05 495.74,114.60 497.54,114.12 499.34,113.59 501.14,113.02 502.95,112.41 504.75,111.76 506.55,111.07 508.36,110.34 510.16,109.58 511.96,108.80 513.76,107.99 515.56,107.17 517.37,106.35 519.17,105.52 520.97,104.70 522.77,103.88 524.58,103.06 526.38,102.26 528.18,101.46 529.99,100.67 531.79,99.90 533.59,99.12 535.39,98.36 537.19,97.60 539.00,96.84 540.80,96.08 542.60,95.32 544.40,94.56 546.21,93.80 548.01,93.04 549.81,92.27 551.62,91.49 553.42,90.71 555.22,89.91 557.02,89.11 558.83,88.30 560.63,87.47 562.43,86.63 564.23,85.78 566.03,84.91 567.84,84.03 569.64,83.12 571.44,82.20 573.25,81.27 575.05,80.31 576.85,79.33 578.65,78.33 580.45,77.31 582.26,76.28 584.06,75.22 585.86,74.14 587.66,73.03 589.47,71.91 591.27,70.77 593.07,69.61 594.88,68.43 596.68,67.23 598.48,66.01 600.28,64.77 602.09,63.52 603.89,62.24 605.69,60.95 607.49,59.65 609.29,58.32 611.10,56.98 612.90,55.62 614.70,54.25 616.50,52.86 618.31,51.46 620.11,50.05 621.91,48.62 623.71,47.18 625.52,45.73 627.32,44.27 629.12,42.80 630.92,41.33" fill="none" stroke="#d62728" stroke-width="1.0" stroke-opacity="1.0" stroke-linejoin="round"/>
<polyline points="468.70,118.29 470.50,118.14 472.31,117.98 474.11,117.79 475.91,117.58 477.71,117.34 479.51,117.08 481.32,116.79 483.12,116.48 484.92,116.14 486.72,115.77 488.53,115.38 490.33,114.96 492.13,114.51 493.94,114.03 495.74,113.51 497.54,112.96 499.34,112.38 501.14,111.76 502.95,111.11 504.75,110.41 506.55,109.68 508.36,108.92 510.16,108.13 511.96,107.32 513.76,106.48 515.56,105.63 517.37,104.77 519.17,103.89 520.97,103.01 522.77,102.13 524.58,101.24 526.38,100.36 528.18,99.47 529.99,98.59 531.79,97.70 533.59,96.82 535.39,95.93 537.19,95.04 539.00,94.15 540.80,93.25 542.60,92.34 544.40,91.43 546.21,90.52 548.01,89.60 549.81,88.66 551.62,87.72 553.42,86.77 555.22,85.81 557.02,84.84 558.83,83.86 560.63,82.87 562.43,81.86 564.23,80.84 566.03,79.80 567.84,78.75 569.64,77.69 571.44,76.61 573.25,75.51 575.05,74.40 576.85,73.27 578.65,72.12 580.45,70.95 582.26,69.76 584.06,68.56 585.86,67.34 587.66,66.10 589.47,64.84 591.27,63.56 593.07,62.26 594.88,60.95 596.68,59.61 598.48,58.26 600.28,56.90 602.09,55.51 603.89,54.11 605.69,52.70 607.49,51.26 609.29,49.81 611.10,48.35 612.90,46.87 614.70,45.38 616.50,43.87 618.31,42.35 620.11,40.81 621.91,39.26 623.71,37.71 625.52,36.14 627.32,34.56 629.12,32.97 630.92,31.38" fill="none" stroke="#9467bd" stroke-width="1.0" stroke-opacity="1.0" stroke-linejoin="round"/>
<polyline points="468.70,118.47 470.50,118.46 472.31,118.44 474.11,118.42 475.91,118.39 477.71,118.36 479.51,118.32 481.32,118.28 483.12,118.23 484.92,118.17 486.72,118.10 488.53,118.01 490.33,117.90 492.13,117.78 493.94,117.62 495.74,117.44 497.54,117.22 499.34,116.96 501.14,116.66 502.95,116.32 504.75,115.94 506.55,115.51 508.36,115.05 510.16,114.55 511.96,114.02 513.76,113.47 515.56,112.90 517.37,112.31 519.17,111.72 520.97,111.12 522.77,110.52 524.58,109.92 526.38,109.32 528.18,108.72 529.99,108.12 531.79,107.53 533.59,106.93 535.39,106.34 537.19,105.74 539.00,105.14 540.80,104.54 542.60,103.93 544.40,103.31 546.21,102.69 548.01,102.07 549.81,101.43 551.62,100.79 553.42,100.14 555.22,99.48 557.02,98.81 558.83,98.13 560.63,97.44 562.43,96.74 564.23,96.02 566.03,95.29 567.84,94.55 569.64,93.79 571.44,93.02 573.25,92.23 575.05,91.42 576.85,90.60 578.65,89.76 580.45,88.90 582.26,88.02 584.06,87.12 585.86,86.20 587.66,85.27 589.47,84.31 591.27,83.34 593.07,82.34 594.88,81.33 596.68,80.30 598.48,79.25 600.28,78.18 602.09,77.09 603.89,75.99 605.69,74.87 607.49,73.73 609.29,72.58 611.10,71.41 612.90,70.23 614.70,69.03 616.50,67.82 618.31,66.59 620.11,65.35 621.91,64.10 623.71,62.84 625.52,61.57 627.32,60.29 629.12,59.00 630.92,57.70" fill="none" stroke="#8c564b" stroke-width="1.0" stroke-opacity="1.0" stroke-linejoin="round"/>
<polyline points="468.70,118.29 470.50,118.16 472.31,118.01 474.11,117.84 475.91,117.64 477.71,117.42 479.51,117.18 481.32,116.91 483.12,116.61 484.92,116.29 486.72,115.93 488.53,115.56 490.33,115.15 492.13,114.71 493.94,114.24 495.74,113.74 497.54,113.20 499.34,112.63 501.14,112.01 502.95,111.36 504.75,110.68 506.55,109.96 508.36,109.20 510.16,108.42 511.96,107.61 513.76,106.78 515.56,105.94 517.37,105.09 519.17,104.23 520.97,103.37 522.77,102.52 524.58,101.66 526.38,100.81 528.18,99.96 529.99,99.12 531.79,98.29 533.59,97.45 535.39,96.62 537.19,95.79 539.00,94.96 540.80,94.12 542.60,93.29 544.40,92.45 546.21,91.60 548.01,90.75 549.81,89.89 551.62,89.03 553.42,88.15 555.22,87.27 557.02,86.37 558.83,85.46 560.63,84.53 562.43,83.60 564.23,82.64 566.03,81.67 567.84,80.69 569.64,79.68 571.44,78.66 573.25,77.61 575.05,76.55 576.85,75.46 578.65,74.35 580.45,73.22 582.26,72.07 584.06,70.89 585.86,69.69 587.66,68.47 589.47,67.23 591.27,65.96 593.07,64.67 594.88,63.37 596.68,62.03 598.48,60.68 600.28,59.31 602.09,57.92 603.89,56.51 605.69,55.07 607.49,53.62 609.29,52.15 611.10,50.66 612.90,49.16 614.70,47.64 616.50,46.10 618.31,44.54 620.11,42.97 621.91,41.39 623.71,39.79 625.52,38.18 627.32,36.56 629.12,34.93 630.92,33.29" fill="none" stroke="#e377c2" stroke-width="1.0" stroke-opacity="1.0" stroke-linejoin="round"/>
<polyline points="468.70,118.32 470.50,118.09 472.31,117.85 474.11,117.59 475.91,117.30 477.71,117.00 479.51,116.67 481.32,116.32 483.12,115.94 484.92,115.54 486.72,115.11 488.53,114.66 490.33,114.18 492.13,113.68 493.94,113.15 495.74,112.58 497.54,111.99 499.34,111.36 501.14,110.70 502.95,110.01 504.75,109.29 506.55,108.53 508.36,107.75 510.16,106.94 511.96,106.10 513.76,105.25 515.56,104.38 517.37,103.50 519.17,102.61 520.97,101.71 522.77,100.81 524.58,99.91 526.38,99.00 528.18,98.10 529.99,97.19 531.79,96.28 533.59,95.37 535.39,94.45 537.19,93.53 539.00,92.61 540.80,91.68 542.60,90.75 544.40,89.81 546.21,88.86 548.01,87.91 549.81,86.94 551.62,85.97 553.42,84.99 555.22,83.99 557.02,82.99 558.83,81.97 560.63,80.94 562.43,79.90 564.23,78.84 566.03,77.77 567.84,76.69 569.64,75.59 571.44,74.47 573.25,73.34 575.05,72.18 576.85,71.02 578.65,69.83 580.45,68.62 582.26,67.40 584.06,66.16 585.86,64.90 587.66,63.61 589.47,62.32 591.27,61.00 593.07,59.66 594.88,58.30 596.68,56.93 598.48,55.54 600.28,54.13 602.09,52.70 603.89,51.26 605.69,49.80 607.49,48.33 609.29,46.83 611.10,45.32 612.90,43.80 614.70,42.26 616.50,40.71 618.31,39.14 620.11,37.56 621.91,35.97 623.71,34.36 625.52,32.75 627.32,31.12 629.12,29.49 630.92,27.85" fill="none" stroke="#7f7f7f" stroke-width="1.0" stroke-opacity="1.0" stroke-linejoin="round"/>
<polyline points="468.70,118.45 470.50,117.67 472.31,116.89 474.11,116.10 475.91,115.31 477.71,114.51 479.51,113.70 481.32,112.88 483.12,112.06 484.92,111.23 486.72,110.39 488.53,109.54 490.33,108.68 492.13,107.81 493.94,106.94 495.74,106.05 497.54,105.16 499.34,104.26 501.14,103.35 502.95,102.43 504.75,101.50 506.55,100.56 508.36,99.61 510.16,98.66 511.96,97.69 513.76,96.71 515.56,95.73 517.37,94.74 519.17,93.74 520.97,92.73 522.77,91.72 524.58,90.69 526.38,89.67 528.18,88.63 529.99,87.59 531.79,86.55 533.59,85.50 535.39,84.44 537.19,83.38 539.00,82.31 540.80,81.24 542.60,80.15 544.40,79.07 546.21,77.97 548.01,76.87 549.81,75.76 551.62,74.64 553.42,73.51 555.22,72.37 557.02,71.23 558.83,70.07 560.63,68.91 562.43,67.73 564.23,66.55 566.03,65.35 567.84,64.14 569.64,62.92 571.44,61.69 573.25,60.45 575.05,59.19 576.85,57.92 578.65,56.64 580.45,55.35 582.26,54.04 584.06,52.72 585.86,51.38 587.66,50.03 589.47,48.67 591.27,47.30 593.07,45.91 594.88,44.51 596.68,43.10 598.48,41.67 600.28,40.23 602.09,38.78 603.89,37.32 605.69,35.84 607.49,34.35 609.29,32.85 611.10,31.34 612.90,29.82 614.70,28.29 616.50,26.74 618.31,25.19 620.11,23.62 621.91,22.05 623.71,20.47 625.52,18.87 627.32,17.27 629.12,15.67 630.92,14.06" fill="none" stroke="#bcbd22" stroke-width="1.0" stroke-opacity="1.0" stroke-linejoin="round"/>
<rect x="464.00" y="12.55" width="57.6" height="92.8" rx="1.5" fill="#fff" fill-opacity="0.8" stroke="#d0d0d0" stroke-width="0.6"/>
<line x1="465.50" y1="17.95" x2="479.30" y2="17.95" stroke="#1f77b4" stroke-width="1.6" stroke-opacity="0.5"/>
<text x="484.10" y="21.15" font-family="Liberation Sans, sans-serif" stroke="#111" stroke-width="0.12" font-size="6.7" fill="#111">MadGan</text>
<line x1="465.50" y1="28.05" x2="479.30" y2="28.05" stroke="#ff7f0e" stroke-width="1.6" stroke-opacity="0.5"/>
<text x="484.10" y="31.25" font-family="Liberation Sans, sans-serif" stroke="#111" stroke-width="0.12" font-size="6.7" fill="#111">AutoEn</text>
<line x1="465.50" y1="38.15" x2="479.30" y2="38.15" stroke="#2ca02c" stroke-width="1.2" stroke-opacity="0.9"/>
<text x="484.10" y="41.35" font-family="Liberation Sans, sans-serif" stroke="#111" stroke-width="0.12" font-size="6.7" fill="#111">VanLstm</text>
<line x1="465.50" y1="48.25" x2="479.30" y2="48.25" stroke="#d62728" stroke-width="1.0" stroke-opacity="0.8"/>
<text x="484.10" y="51.45" font-family="Liberation Sans, sans-serif" stroke="#111" stroke-width="0.12" font-size="6.7" fill="#111">IsoF</text>
<line x1="465.50" y1="58.35" x2="479.30" y2="58.35" stroke="#9467bd" stroke-width="0.9" stroke-opacity="0.8"/>
<text x="484.10" y="61.55" font-family="Liberation Sans, sans-serif" stroke="#111" stroke-width="0.12" font-size="6.7" fill="#111">GMM</text>
<line x1="465.50" y1="68.45" x2="479.30" y2="68.45" stroke="#8c564b" stroke-width="0.9" stroke-opacity="0.8"/>
<text x="484.10" y="71.65" font-family="Liberation Sans, sans-serif" stroke="#111" stroke-width="0.12" font-size="6.7" fill="#111">OCSvm</text>
<line x1="465.50" y1="78.55" x2="479.30" y2="78.55" stroke="#e377c2" stroke-width="1.2" stroke-opacity="0.7"/>
<text x="484.10" y="81.75" font-family="Liberation Sans, sans-serif" stroke="#111" stroke-width="0.12" font-size="6.7" fill="#111">BiLstmGan</text>
<line x1="465.50" y1="88.65" x2="479.30" y2="88.65" stroke="#7f7f7f" stroke-width="1.6" stroke-opacity="0.45"/>
<text x="484.10" y="91.85" font-family="Liberation Sans, sans-serif" stroke="#111" stroke-width="0.12" font-size="6.7" fill="#111">CnnGan</text>
<line x1="465.50" y1="98.75" x2="479.30" y2="98.75" stroke="#bcbd22" stroke-width="1.6" stroke-opacity="0.55"/>
<text x="484.10" y="101.95" font-family="Liberation Sans, sans-serif" stroke="#111" stroke-width="0.12" font-size="6.7" fill="#111">TAnoGan</text>
<rect x="460.70" y="9.35" width="178.4" height="116.0" fill="none" stroke="#999" stroke-width="1.2"/>
<line x1="468.70" y1="125.35" x2="468.70" y2="127.75" stroke="#000" stroke-width="0.6"/>
<text x="468.70" y="133.55" font-family="Liberation Sans, sans-serif" stroke="#000" stroke-width="0.08" font-size="5.5" fill="#111" text-anchor="middle">0</text>
<line x1="504.75" y1="125.35" x2="504.75" y2="127.75" stroke="#000" stroke-width="0.6"/>
<text x="504.75" y="133.55" font-family="Liberation Sans, sans-serif" stroke="#000" stroke-width="0.08" font-size="5.5" fill="#111" text-anchor="middle">10</text>
<line x1="540.80" y1="125.35" x2="540.80" y2="127.75" stroke="#000" stroke-width="0.6"/>
<text x="540.80" y="133.55" font-family="Liberation Sans, sans-serif" stroke="#000" stroke-width="0.08" font-size="5.5" fill="#111" text-anchor="middle">20</text>
<line x1="576.85" y1="125.35" x2="576.85" y2="127.75" stroke="#000" stroke-width="0.6"/>
<text x="576.85" y="133.55" font-family="Liberation Sans, sans-serif" stroke="#000" stroke-width="0.08" font-size="5.5" fill="#111" text-anchor="middle">30</text>
<line x1="612.90" y1="125.35" x2="612.90" y2="127.75" stroke="#000" stroke-width="0.6"/>
<text x="612.90" y="133.55" font-family="Liberation Sans, sans-serif" stroke="#000" stroke-width="0.08" font-size="5.5" fill="#111" text-anchor="middle">40</text>
<line x1="458.30" y1="119.44" x2="460.70" y2="119.44" stroke="#000" stroke-width="0.6"/>
<text x="456.40" y="121.34" font-family="Liberation Sans, sans-serif" stroke="#000" stroke-width="0.08" font-size="5.5" fill="#111" text-anchor="end">0</text>
<line x1="458.30" y1="103.39" x2="460.70" y2="103.39" stroke="#000" stroke-width="0.6"/>
<text x="456.40" y="105.30" font-family="Liberation Sans, sans-serif" stroke="#000" stroke-width="0.08" font-size="5.5" fill="#111" text-anchor="end">5</text>
<line x1="458.30" y1="87.35" x2="460.70" y2="87.35" stroke="#000" stroke-width="0.6"/>
<text x="456.40" y="89.25" font-family="Liberation Sans, sans-serif" stroke="#000" stroke-width="0.08" font-size="5.5" fill="#111" text-anchor="end">10</text>
<line x1="458.30" y1="71.31" x2="460.70" y2="71.31" stroke="#000" stroke-width="0.6"/>
<text x="456.40" y="73.21" font-family="Liberation Sans, sans-serif" stroke="#000" stroke-width="0.08" font-size="5.5" fill="#111" text-anchor="end">15</text>
<line x1="458.30" y1="55.26" x2="460.70" y2="55.26" stroke="#000" stroke-width="0.6"/>
<text x="456.40" y="57.16" font-family="Liberation Sans, sans-serif" stroke="#000" stroke-width="0.08" font-size="5.5" fill="#111" text-anchor="end">20</text>
<line x1="458.30" y1="39.21" x2="460.70" y2="39.21" stroke="#000" stroke-width="0.6"/>
<text x="456.40" y="41.11" font-family="Liberation Sans, sans-serif" stroke="#000" stroke-width="0.08" font-size="5.5" fill="#111" text-anchor="end">25</text>
<line x1="458.30" y1="23.17" x2="460.70" y2="23.17" stroke="#000" stroke-width="0.6"/>
<text x="456.40" y="25.07" font-family="Liberation Sans, sans-serif" stroke="#000" stroke-width="0.08" font-size="5.5" fill="#111" text-anchor="end">30</text>
<text x="549.90" y="5.80" font-family="Liberation Sans, sans-serif" stroke="#111" stroke-width="0.2" font-size="9.1" fill="#111" text-anchor="middle" textLength="83.6" lengthAdjust="spacingAndGlyphs">Cohen Kappa Score</text>
<text x="549.90" y="143.45" font-family="Liberation Sans, sans-serif" stroke="#111" stroke-width="0.2" font-size="9.3" fill="#111" text-anchor="middle" textLength="31.7" lengthAdjust="spacingAndGlyphs">dataset</text>
<text transform="translate(445.90,67.35) rotate(-90)" x="0" y="0" font-family="Liberation Sans, sans-serif" stroke="#111" stroke-width="0.2" font-size="9.6" fill="#111" text-anchor="middle" textLength="69.6" lengthAdjust="spacingAndGlyphs">cumulative rank</text>
<polyline points="29.40,284.42 31.20,283.63 33.00,282.84 34.81,282.04 36.61,281.23 38.41,280.41 40.21,279.58 42.02,278.74 43.82,277.88 45.62,277.01 47.42,276.13 49.23,275.24 51.03,274.33 52.83,273.41 54.63,272.47 56.44,271.52 58.24,270.56 60.04,269.58 61.84,268.59 63.65,267.58 65.45,266.56 67.25,265.52 69.06,264.47 70.86,263.42 72.66,262.35 74.46,261.27 76.27,260.19 78.07,259.10 79.87,258.01 81.67,256.91 83.47,255.81 85.28,254.71 87.08,253.61 88.88,252.50 90.69,251.40 92.49,250.29 94.29,249.18 96.09,248.06 97.90,246.95 99.70,245.83 101.50,244.71 103.30,243.59 105.10,242.47 106.91,241.34 108.71,240.21 110.51,239.08 112.31,237.95 114.12,236.81 115.92,235.67 117.72,234.53 119.53,233.39 121.33,232.24 123.13,231.10 124.93,229.95 126.73,228.80 128.54,227.64 130.34,226.49 132.14,225.33 133.94,224.17 135.75,223.01 137.55,221.84 139.35,220.68 141.16,219.51 142.96,218.34 144.76,217.17 146.56,215.99 148.37,214.81 150.17,213.63 151.97,212.45 153.77,211.27 155.57,210.08 157.38,208.89 159.18,207.70 160.98,206.51 162.78,205.31 164.59,204.12 166.39,202.91 168.19,201.71 170.00,200.51 171.80,199.30 173.60,198.09 175.40,196.88 177.21,195.67 179.01,194.45 180.81,193.23 182.61,192.02 184.41,190.79 186.22,189.57 188.02,188.35 189.82,187.12 191.62,185.89" fill="none" stroke="#1f77b4" stroke-width="1.0" stroke-opacity="1.0" stroke-linejoin="round"/>
<polyline points="29.40,284.48 31.20,283.43 33.00,282.39 34.81,281.34 36.61,280.30 38.41,279.25 40.21,278.19 42.02,277.14 43.82,276.08 45.62,275.02 47.42,273.95 49.23,272.88 51.03,271.81 52.83,270.74 54.63,269.66 56.44,268.58 58.24,267.50 60.04,266.41 61.84,265.32 63.65,264.23 65.45,263.13 67.25,262.03 69.06,260.93 70.86,259.82 72.66,258.72 74.46,257.61 76.27,256.50 78.07,255.39 79.87,254.28 81.67,253.17 83.47,252.06 85.28,250.95 87.08,249.84 88.88,248.73 90.69,247.62 92.49,246.51 94.29,245.40 96.09,244.29 97.90,243.18 99.70,242.08 101.50,240.97 103.30,239.86 105.10,238.75 106.91,237.63 108.71,236.52 110.51,235.40 112.31,234.29 114.12,233.17 115.92,232.05 117.72,230.92 119.53,229.79 121.33,228.66 123.13,227.53 124.93,226.39 126.73,225.24 128.54,224.10 130.34,222.94 132.14,221.79 133.94,220.63 135.75,219.46 137.55,218.29 139.35,217.12 141.16,215.94 142.96,214.75 144.76,213.57 146.56,212.37 148.37,211.18 150.17,209.98 151.97,208.77 153.77,207.56 155.57,206.35 157.38,205.14 159.18,203.92 160.98,202.69 162.78,201.47 164.59,200.24 166.39,199.00 168.19,197.76 170.00,196.52 171.80,195.28 173.60,194.03 175.40,192.77 177.21,191.52 179.01,190.26 180.81,189.00 182.61,187.73 184.41,186.46 186.22,185.19 188.02,183.91 189.82,182.64 191.62,181.36" fill="none" stroke="#ff7f0e" stroke-width="1.0" stroke-opacity="1.0" stroke-linejoin="round"/>
<polyline points="29.40,284.36 31.20,283.80 33.00,283.22 34.81,282.63 36.61,282.03 38.41,281.41 40.21,280.77 42.02,280.11 43.82,279.43 45.62,278.73 47.42,278.00 49.23,277.26 51.03,276.50 52.83,275.71 54.63,274.90 56.44,274.07 58.24,273.21 60.04,272.32 61.84,271.42 63.65,270.48 65.45,269.53 67.25,268.55 69.06,267.55 70.86,266.53 72.66,265.50 74.46,264.45 76.27,263.40 78.07,262.33 79.87,261.26 81.67,260.19 83.47,259.11 85.28,258.03 87.08,256.94 88.88,255.86 90.69,254.77 92.49,253.69 94.29,252.60 96.09,251.51 97.90,250.41 99.70,249.32 101.50,248.22 103.30,247.12 105.10,246.01 106.91,244.91 108.71,243.80 110.51,242.69 112.31,241.58 114.12,240.46 115.92,239.35 117.72,238.23 119.53,237.11 121.33,236.00 123.13,234.88 124.93,233.75 126.73,232.63 128.54,231.51 130.34,230.39 132.14,229.26 133.94,228.14 135.75,227.01 137.55,225.89 139.35,224.76 141.16,223.64 142.96,222.51 144.76,221.38 146.56,220.25 148.37,219.12 150.17,217.99 151.97,216.86 153.77,215.73 155.57,214.59 157.38,213.46 159.18,212.32 160.98,211.18 162.78,210.04 164.59,208.91 166.39,207.76 168.19,206.62 170.00,205.48 171.80,204.34 173.60,203.19 175.40,202.04 177.21,200.90 179.01,199.75 180.81,198.60 182.61,197.45 184.41,196.30 186.22,195.15 188.02,193.99 189.82,192.84 191.62,191.68" fill="none" stroke="#2ca02c" stroke-width="1.0" stroke-opacity="1.0" stroke-linejoin="round"/>
<polyline points="29.40,284.38 31.20,283.75 33.00,283.10 34.81,282.45 36.61,281.78 38.41,281.09 40.21,280.39 42.02,279.67 43.82,278.94 45.62,278.19 47.42,277.41 49.23,276.62 51.03,275.82 52.83,274.99 54.63,274.14 56.44,273.27 58.24,272.38 60.04,271.46 61.84,270.53 63.65,269.57 65.45,268.60 67.25,267.60 69.06,266.59 70.86,265.56 72.66,264.52 74.46,263.47 76.27,262.40 78.07,261.33 79.87,260.25 81.67,259.17 83.47,258.08 85.28,256.99 87.08,255.90 88.88,254.80 90.69,253.70 92.49,252.60 94.29,251.50 96.09,250.39 97.90,249.28 99.70,248.17 101.50,247.05 103.30,245.93 105.10,244.81 106.91,243.69 108.71,242.56 110.51,241.43 112.31,240.30 114.12,239.17 115.92,238.04 117.72,236.90 119.53,235.77 121.33,234.63 123.13,233.49 124.93,232.36 126.73,231.22 128.54,230.08 130.34,228.94 132.14,227.80 133.94,226.66 135.75,225.52 137.55,224.39 139.35,223.25 141.16,222.11 142.96,220.97 144.76,219.83 146.56,218.69 148.37,217.55 150.17,216.40 151.97,215.26 153.77,214.12 155.57,212.97 157.38,211.83 159.18,210.68 160.98,209.54 162.78,208.39 164.59,207.24 166.39,206.09 168.19,204.94 170.00,203.79 171.80,202.64 173.60,201.49 175.40,200.34 177.21,199.18 179.01,198.03 180.81,196.87 182.61,195.72 184.41,194.56 186.22,193.40 188.02,192.24 189.82,191.08 191.62,189.93" fill="none" stroke="#d62728" stroke-width="1.0" stroke-opacity="1.0" stroke-linejoin="round"/>
<polyline points="29.40,284.40 31.20,283.68 33.00,282.96 34.81,282.22 36.61,281.48 38.41,280.72 40.21,279.94 42.02,279.16 43.82,278.36 45.62,277.54 47.42,276.71 49.23,275.86 51.03,275.00 52.83,274.12 54.63,273.22 56.44,272.31 58.24,271.37 60.04,270.42 61.84,269.46 63.65,268.47 65.45,267.47 67.25,266.45 69.06,265.42 70.86,264.38 72.66,263.32 74.46,262.25 76.27,261.18 78.07,260.09 79.87,259.00 81.67,257.91 83.47,256.81 85.28,255.71 87.08,254.60 88.88,253.49 90.69,252.38 92.49,251.27 94.29,250.15 96.09,249.03 97.90,247.91 99.70,246.78 101.50,245.65 103.30,244.52 105.10,243.38 106.91,242.24 108.71,241.10 110.51,239.96 112.31,238.81 114.12,237.66 115.92,236.51 117.72,235.36 119.53,234.21 121.33,233.05 123.13,231.90 124.93,230.74 126.73,229.58 128.54,228.42 130.34,227.26 132.14,226.10 133.94,224.94 135.75,223.78 137.55,222.62 139.35,221.45 141.16,220.29 142.96,219.12 144.76,217.95 146.56,216.79 148.37,215.62 150.17,214.45 151.97,213.28 153.77,212.10 155.57,210.93 157.38,209.75 159.18,208.58 160.98,207.40 162.78,206.22 164.59,205.04 166.39,203.85 168.19,202.67 170.00,201.48 171.80,200.30 173.60,199.11 175.40,197.92 177.21,196.73 179.01,195.53 180.81,194.34 182.61,193.15 184.41,191.95 186.22,190.75 188.02,189.55 189.82,188.36 191.62,187.16" fill="none" stroke="#9467bd" stroke-width="1.0" stroke-opacity="1.0" stroke-linejoin="round"/>
<polyline points="29.40,284.34 31.20,283.94 33.00,283.53 34.81,283.10 36.61,282.65 38.41,282.19 40.21,281.70 42.02,281.19 43.82,280.66 45.62,280.11 47.42,279.53 49.23,278.93 51.03,278.31 52.83,277.66 54.63,276.98 56.44,276.28 58.24,275.56 60.04,274.80 61.84,274.01 63.65,273.20 65.45,272.36 67.25,271.49 69.06,270.60 70.86,269.68 72.66,268.74 74.46,267.79 76.27,266.82 78.07,265.83 79.87,264.84 81.67,263.84 83.47,262.82 85.28,261.81 87.08,260.78 88.88,259.75 90.69,258.72 92.49,257.68 94.29,256.63 96.09,255.57 97.90,254.51 99.70,253.45 101.50,252.38 103.30,251.30 105.10,250.22 106.91,249.13 108.71,248.03 110.51,246.94 112.31,245.83 114.12,244.73 115.92,243.62 117.72,242.51 119.53,241.39 121.33,240.28 123.13,239.16 124.93,238.04 126.73,236.91 128.54,235.79 130.34,234.67 132.14,233.54 133.94,232.41 135.75,231.29 137.55,230.16 139.35,229.03 141.16,227.90 142.96,226.77 144.76,225.64 146.56,224.50 148.37,223.37 150.17,222.23 151.97,221.09 153.77,219.95 155.57,218.80 157.38,217.65 159.18,216.50 160.98,215.35 162.78,214.20 164.59,213.04 166.39,211.89 168.19,210.72 170.00,209.56 171.80,208.40 173.60,207.23 175.40,206.06 177.21,204.89 179.01,203.72 180.81,202.54 182.61,201.36 184.41,200.18 186.22,199.00 188.02,197.82 189.82,196.64 191.62,195.45" fill="none" stroke="#8c564b" stroke-width="1.0" stroke-opacity="1.0" stroke-linejoin="round"/>
<polyline points="29.40,284.43 31.20,283.59 33.00,282.75 34.81,281.90 36.61,281.04 38.41,280.18 40.21,279.30 42.02,278.41 43.82,277.52 45.62,276.61 47.42,275.69 49.23,274.76 51.03,273.82 52.83,272.87 54.63,271.90 56.44,270.93 58.24,269.94 60.04,268.94 61.84,267.92 63.65,266.90 65.45,265.86 67.25,264.82 69.06,263.76 70.86,262.69 72.66,261.62 74.46,260.54 76.27,259.45 78.07,258.36 79.87,257.26 81.67,256.16 83.47,255.06 85.28,253.96 87.08,252.85 88.88,251.75 90.69,250.64 92.49,249.53 94.29,248.42 96.09,247.31 97.90,246.19 99.70,245.08 101.50,243.96 103.30,242.84 105.10,241.72 106.91,240.59 108.71,239.47 110.51,238.34 112.31,237.21 114.12,236.07 115.92,234.93 117.72,233.79 119.53,232.65 121.33,231.51 123.13,230.36 124.93,229.21 126.73,228.06 128.54,226.90 130.34,225.74 132.14,224.58 133.94,223.42 135.75,222.25 137.55,221.08 139.35,219.90 141.16,218.73 142.96,217.55 144.76,216.37 146.56,215.18 148.37,213.99 150.17,212.80 151.97,211.61 153.77,210.41 155.57,209.21 157.38,208.01 159.18,206.80 160.98,205.59 162.78,204.38 164.59,203.17 166.39,201.95 168.19,200.73 170.00,199.51 171.80,198.28 173.60,197.05 175.40,195.82 177.21,194.59 179.01,193.35 180.81,192.11 182.61,190.87 184.41,189.63 186.22,188.38 188.02,187.13 189.82,185.88 191.62,184.63" fill="none" stroke="#e377c2" stroke-width="1.0" stroke-opacity="1.0" stroke-linejoin="round"/>
<polyline points="29.40,284.45 31.20,283.54 33.00,282.63 34.81,281.72 36.61,280.79 38.41,279.87 40.21,278.93 42.02,277.99 43.82,277.04 45.62,276.08 47.42,275.11 49.23,274.14 51.03,273.15 52.83,272.16 54.63,271.16 56.44,270.15 58.24,269.13 60.04,268.10 61.84,267.06 63.65,266.01 65.45,264.96 67.25,263.89 69.06,262.82 70.86,261.74 72.66,260.65 74.46,259.56 76.27,258.47 78.07,257.37 79.87,256.26 81.67,255.16 83.47,254.05 85.28,252.94 87.08,251.82 88.88,250.71 90.69,249.59 92.49,248.47 94.29,247.35 96.09,246.23 97.90,245.11 99.70,243.98 101.50,242.86 103.30,241.73 105.10,240.60 106.91,239.46 108.71,238.33 110.51,237.19 112.31,236.05 114.12,234.90 115.92,233.76 117.72,232.61 119.53,231.46 121.33,230.31 123.13,229.15 124.93,228.00 126.73,226.84 128.54,225.68 130.34,224.51 132.14,223.34 133.94,222.17 135.75,221.00 137.55,219.83 139.35,218.65 141.16,217.47 142.96,216.28 144.76,215.10 146.56,213.91 148.37,212.72 150.17,211.52 151.97,210.33 153.77,209.13 155.57,207.93 157.38,206.72 159.18,205.52 160.98,204.31 162.78,203.09 164.59,201.88 166.39,200.66 168.19,199.44 170.00,198.22 171.80,197.00 173.60,195.77 175.40,194.54 177.21,193.31 179.01,192.07 180.81,190.84 182.61,189.60 184.41,188.36 186.22,187.12 188.02,185.87 189.82,184.63 191.62,183.38" fill="none" stroke="#7f7f7f" stroke-width="1.0" stroke-opacity="1.0" stroke-linejoin="round"/>
<polyline points="29.40,284.49 31.20,283.39 33.00,282.30 34.81,281.20 36.61,280.10 38.41,279.01 40.21,277.91 42.02,276.81 43.82,275.71 45.62,274.61 47.42,273.51 49.23,272.40 51.03,271.30 52.83,270.20 54.63,269.09 56.44,267.99 58.24,266.88 60.04,265.77 61.84,264.66 63.65,263.56 65.45,262.45 67.25,261.33 69.06,260.22 70.86,259.11 72.66,257.99 74.46,256.88 76.27,255.76 78.07,254.65 79.87,253.53 81.67,252.41 83.47,251.29 85.28,250.17 87.08,249.05 88.88,247.93 90.69,246.81 92.49,245.69 94.29,244.56 96.09,243.44 97.90,242.32 99.70,241.20 101.50,240.07 103.30,238.95 105.10,237.82 106.91,236.69 108.71,235.56 110.51,234.43 112.31,233.30 114.12,232.16 115.92,231.02 117.72,229.87 119.53,228.73 121.33,227.58 123.13,226.42 124.93,225.27 126.73,224.10 128.54,222.94 130.34,221.76 132.14,220.59 133.94,219.41 135.75,218.22 137.55,217.03 139.35,215.83 141.16,214.63 142.96,213.43 144.76,212.22 146.56,211.01 148.37,209.79 150.17,208.56 151.97,207.34 153.77,206.11 155.57,204.87 157.38,203.63 159.18,202.39 160.98,201.14 162.78,199.89 164.59,198.63 166.39,197.37 168.19,196.11 170.00,194.84 171.80,193.57 173.60,192.29 175.40,191.01 177.21,189.73 179.01,188.44 180.81,187.15 182.61,185.86 184.41,184.56 186.22,183.26 188.02,181.96 189.82,180.65 191.62,179.35" fill="none" stroke="#bcbd22" stroke-width="1.0" stroke-opacity="1.0" stroke-linejoin="round"/>
<rect x="24.70" y="177.80" width="57.6" height="92.8" rx="1.5" fill="#fff" fill-opacity="0.8" stroke="#d0d0d0" stroke-width="0.6"/>
<line x1="26.20" y1="183.20" x2="40.00" y2="183.20" stroke="#1f77b4" stroke-width="1.5" stroke-opacity="0.9"/>
<text x="44.80" y="186.40" font-family="Liberation Sans, sans-serif" stroke="#111" stroke-width="0.12" font-size="6.7" fill="#111">MadGan</text>
<line x1="26.20" y1="193.30" x2="40.00" y2="193.30" stroke="#ff7f0e" stroke-width="1.1" stroke-opacity="0.8"/>
<text x="44.80" y="196.50" font-family="Liberation Sans, sans-serif" stroke="#111" stroke-width="0.12" font-size="6.7" fill="#111">AutoEn</text>
<line x1="26.20" y1="203.40" x2="40.00" y2="203.40" stroke="#2ca02c" stroke-width="1.0" stroke-opacity="0.7"/>
<text x="44.80" y="206.60" font-family="Liberation Sans, sans-serif" stroke="#111" stroke-width="0.12" font-size="6.7" fill="#111">VanLstm</text>
<line x1="26.20" y1="213.50" x2="40.00" y2="213.50" stroke="#d62728" stroke-width="1.1" stroke-opacity="0.8"/>
<text x="44.80" y="216.70" font-family="Liberation Sans, sans-serif" stroke="#111" stroke-width="0.12" font-size="6.7" fill="#111">IsoF</text>
<line x1="26.20" y1="223.60" x2="40.00" y2="223.60" stroke="#9467bd" stroke-width="1.6" stroke-opacity="0.8"/>
<text x="44.80" y="226.80" font-family="Liberation Sans, sans-serif" stroke="#111" stroke-width="0.12" font-size="6.7" fill="#111">GMM</text>
<line x1="26.20" y1="233.70" x2="40.00" y2="233.70" stroke="#8c564b" stroke-width="1.3" stroke-opacity="0.5"/>
<text x="44.80" y="236.90" font-family="Liberation Sans, sans-serif" stroke="#111" stroke-width="0.12" font-size="6.7" fill="#111">OCSvm</text>
<line x1="26.20" y1="243.80" x2="40.00" y2="243.80" stroke="#e377c2" stroke-width="1.7" stroke-opacity="0.4"/>
<text x="44.80" y="247.00" font-family="Liberation Sans, sans-serif" stroke="#111" stroke-width="0.12" font-size="6.7" fill="#111">BiLstmGan</text>
<line x1="26.20" y1="253.90" x2="40.00" y2="253.90" stroke="#7f7f7f" stroke-width="1.2" stroke-opacity="0.8"/>
<text x="44.80" y="257.10" font-family="Liberation Sans, sans-serif" stroke="#111" stroke-width="0.12" font-size="6.7" fill="#111">CnnGan</text>
<line x1="26.20" y1="264.00" x2="40.00" y2="264.00" stroke="#bcbd22" stroke-width="1.1" stroke-opacity="0.8"/>
<text x="44.80" y="267.20" font-family="Liberation Sans, sans-serif" stroke="#111" stroke-width="0.12" font-size="6.7" fill="#111">TAnoGan</text>
<rect x="21.40" y="174.60" width="178.4" height="116.0" fill="none" stroke="#999" stroke-width="1.2"/>
<line x1="29.40" y1="290.60" x2="29.40" y2="293.00" stroke="#000" stroke-width="0.6"/>
<text x="29.40" y="298.80" font-family="Liberation Sans, sans-serif" stroke="#000" stroke-width="0.08" font-size="5.5" fill="#111" text-anchor="middle">0</text>
<line x1="65.45" y1="290.60" x2="65.45" y2="293.00" stroke="#000" stroke-width="0.6"/>
<text x="65.45" y="298.80" font-family="Liberation Sans, sans-serif" stroke="#000" stroke-width="0.08" font-size="5.5" fill="#111" text-anchor="middle">10</text>
<line x1="101.50" y1="290.60" x2="101.50" y2="293.00" stroke="#000" stroke-width="0.6"/>
<text x="101.50" y="298.80" font-family="Liberation Sans, sans-serif" stroke="#000" stroke-width="0.08" font-size="5.5" fill="#111" text-anchor="middle">20</text>
<line x1="137.55" y1="290.60" x2="137.55" y2="293.00" stroke="#000" stroke-width="0.6"/>
<text x="137.55" y="298.80" font-family="Liberation Sans, sans-serif" stroke="#000" stroke-width="0.08" font-size="5.5" fill="#111" text-anchor="middle">30</text>
<line x1="173.60" y1="290.60" x2="173.60" y2="293.00" stroke="#000" stroke-width="0.6"/>
<text x="173.60" y="298.80" font-family="Liberation Sans, sans-serif" stroke="#000" stroke-width="0.08" font-size="5.5" fill="#111" text-anchor="middle">40</text>
<line x1="19.00" y1="285.55" x2="21.40" y2="285.55" stroke="#000" stroke-width="0.6"/>
<text x="17.10" y="287.45" font-family="Liberation Sans, sans-serif" stroke="#000" stroke-width="0.08" font-size="5.5" fill="#111" text-anchor="end">0</text>
<line x1="19.00" y1="260.26" x2="21.40" y2="260.26" stroke="#000" stroke-width="0.6"/>
<text x="17.10" y="262.16" font-family="Liberation Sans, sans-serif" stroke="#000" stroke-width="0.08" font-size="5.5" fill="#111" text-anchor="end">10</text>
<line x1="19.00" y1="234.97" x2="21.40" y2="234.97" stroke="#000" stroke-width="0.6"/>
<text x="17.10" y="236.87" font-family="Liberation Sans, sans-serif" stroke="#000" stroke-width="0.08" font-size="5.5" fill="#111" text-anchor="end">20</text>
<line x1="19.00" y1="209.68" x2="21.40" y2="209.68" stroke="#000" stroke-width="0.6"/>
<text x="17.10" y="211.58" font-family="Liberation Sans, sans-serif" stroke="#000" stroke-width="0.08" font-size="5.5" fill="#111" text-anchor="end">30</text>
<line x1="19.00" y1="184.39" x2="21.40" y2="184.39" stroke="#000" stroke-width="0.6"/>
<text x="17.10" y="186.29" font-family="Liberation Sans, sans-serif" stroke="#000" stroke-width="0.08" font-size="5.5" fill="#111" text-anchor="end">40</text>
<text x="110.60" y="171.05" font-family="Liberation Sans, sans-serif" stroke="#111" stroke-width="0.2" font-size="9.1" fill="#111" text-anchor="middle" textLength="37.9" lengthAdjust="spacingAndGlyphs">Accuracy</text>
<text x="110.60" y="308.70" font-family="Liberation Sans, sans-serif" stroke="#111" stroke-width="0.2" font-size="9.3" fill="#111" text-anchor="middle" textLength="31.7" lengthAdjust="spacingAndGlyphs">dataset</text>
<text transform="translate(6.60,232.60) rotate(-90)" x="0" y="0" font-family="Liberation Sans, sans-serif" stroke="#111" stroke-width="0.2" font-size="9.6" fill="#111" text-anchor="middle" textLength="69.6" lengthAdjust="spacingAndGlyphs">cumulative rank</text>
<polyline points="249.00,284.45 250.80,283.91 252.60,283.36 254.41,282.80 256.21,282.24 258.01,281.67 259.81,281.09 261.62,280.51 263.42,279.92 265.22,279.31 267.02,278.71 268.83,278.09 270.63,277.46 272.43,276.83 274.24,276.18 276.04,275.53 277.84,274.87 279.64,274.20 281.44,273.52 283.25,272.83 285.05,272.13 286.85,271.42 288.65,270.70 290.46,269.96 292.26,269.21 294.06,268.45 295.87,267.67 297.67,266.88 299.47,266.07 301.27,265.24 303.07,264.40 304.88,263.54 306.68,262.67 308.48,261.78 310.28,260.87 312.09,259.95 313.89,259.01 315.69,258.06 317.50,257.09 319.30,256.11 321.10,255.11 322.90,254.10 324.70,253.07 326.51,252.04 328.31,250.99 330.11,249.92 331.92,248.85 333.72,247.76 335.52,246.66 337.32,245.55 339.12,244.42 340.93,243.29 342.73,242.14 344.53,240.99 346.33,239.82 348.14,238.64 349.94,237.45 351.74,236.26 353.55,235.04 355.35,233.82 357.15,232.59 358.95,231.34 360.75,230.08 362.56,228.81 364.36,227.52 366.16,226.22 367.97,224.90 369.77,223.57 371.57,222.22 373.37,220.86 375.18,219.49 376.98,218.09 378.78,216.69 380.58,215.27 382.38,213.84 384.19,212.39 385.99,210.93 387.79,209.45 389.60,207.96 391.40,206.46 393.20,204.95 395.00,203.42 396.81,201.88 398.61,200.33 400.41,198.77 402.21,197.19 404.01,195.61 405.82,194.02 407.62,192.41 409.42,190.81 411.23,189.19" fill="none" stroke="#1f77b4" stroke-width="1.0" stroke-opacity="1.0" stroke-linejoin="round"/>
<polyline points="249.00,284.47 250.80,283.74 252.60,283.02 254.41,282.29 256.21,281.55 258.01,280.81 259.81,280.06 261.62,279.31 263.42,278.55 265.22,277.79 267.02,277.02 268.83,276.25 270.63,275.47 272.43,274.68 274.24,273.88 276.04,273.08 277.84,272.28 279.64,271.47 281.44,270.65 283.25,269.82 285.05,268.99 286.85,268.15 288.65,267.30 290.46,266.44 292.26,265.57 294.06,264.70 295.87,263.82 297.67,262.92 299.47,262.02 301.27,261.10 303.07,260.18 304.88,259.25 306.68,258.31 308.48,257.36 310.28,256.41 312.09,255.44 313.89,254.47 315.69,253.49 317.50,252.50 319.30,251.50 321.10,250.49 322.90,249.48 324.70,248.46 326.51,247.43 328.31,246.38 330.11,245.33 331.92,244.27 333.72,243.20 335.52,242.12 337.32,241.03 339.12,239.93 340.93,238.82 342.73,237.69 344.53,236.56 346.33,235.41 348.14,234.25 349.94,233.07 351.74,231.89 353.55,230.68 355.35,229.47 357.15,228.24 358.95,226.99 360.75,225.73 362.56,224.46 364.36,223.17 366.16,221.86 367.97,220.54 369.77,219.20 371.57,217.85 373.37,216.48 375.18,215.10 376.98,213.70 378.78,212.28 380.58,210.85 382.38,209.41 384.19,207.95 385.99,206.48 387.79,204.99 389.60,203.49 391.40,201.97 393.20,200.45 395.00,198.90 396.81,197.35 398.61,195.78 400.41,194.21 402.21,192.62 404.01,191.02 405.82,189.41 407.62,187.80 409.42,186.17 411.23,184.54" fill="none" stroke="#ff7f0e" stroke-width="1.0" stroke-opacity="1.0" stroke-linejoin="round"/>
<polyline points="249.00,284.43 250.80,284.08 252.60,283.72 254.41,283.35 256.21,282.98 258.01,282.59 259.81,282.19 261.62,281.79 263.42,281.37 265.22,280.94 267.02,280.51 268.83,280.06 270.63,279.59 272.43,279.12 274.24,278.64 276.04,278.14 277.84,277.63 279.64,277.11 281.44,276.57 283.25,276.02 285.05,275.46 286.85,274.88 288.65,274.29 290.46,273.69 292.26,273.08 294.06,272.45 295.87,271.82 297.67,271.17 299.47,270.52 301.27,269.85 303.07,269.18 304.88,268.50 306.68,267.81 308.48,267.11 310.28,266.41 312.09,265.70 313.89,264.99 315.69,264.26 317.50,263.53 319.30,262.79 321.10,262.04 322.90,261.29 324.70,260.52 326.51,259.75 328.31,258.97 330.11,258.17 331.92,257.37 333.72,256.56 335.52,255.73 337.32,254.90 339.12,254.05 340.93,253.19 342.73,252.31 344.53,251.43 346.33,250.52 348.14,249.61 349.94,248.68 351.74,247.73 353.55,246.77 355.35,245.79 357.15,244.80 358.95,243.78 360.75,242.75 362.56,241.69 364.36,240.62 366.16,239.53 367.97,238.42 369.77,237.29 371.57,236.14 373.37,234.97 375.18,233.77 376.98,232.57 378.78,231.34 380.58,230.09 382.38,228.82 384.19,227.54 385.99,226.24 387.79,224.92 389.60,223.58 391.40,222.23 393.20,220.86 395.00,219.48 396.81,218.08 398.61,216.67 400.41,215.24 402.21,213.80 404.01,212.35 405.82,210.89 407.62,209.42 409.42,207.93 411.23,206.45" fill="none" stroke="#2ca02c" stroke-width="1.0" stroke-opacity="1.0" stroke-linejoin="round"/>
<polyline points="249.00,284.43 250.80,284.10 252.60,283.77 254.41,283.43 256.21,283.08 258.01,282.72 259.81,282.35 261.62,281.97 263.42,281.58 265.22,281.17 267.02,280.76 268.83,280.33 270.63,279.90 272.43,279.45 274.24,278.99 276.04,278.51 277.84,278.02 279.64,277.52 281.44,277.01 283.25,276.48 285.05,275.94 286.85,275.38 288.65,274.82 290.46,274.23 292.26,273.64 294.06,273.03 295.87,272.41 297.67,271.78 299.47,271.14 301.27,270.49 303.07,269.83 304.88,269.16 306.68,268.48 308.48,267.79 310.28,267.09 312.09,266.39 313.89,265.68 315.69,264.96 317.50,264.23 319.30,263.49 321.10,262.74 322.90,261.99 324.70,261.22 326.51,260.44 328.31,259.66 330.11,258.86 331.92,258.05 333.72,257.24 335.52,256.41 337.32,255.57 339.12,254.72 340.93,253.85 342.73,252.98 344.53,252.09 346.33,251.19 348.14,250.27 349.94,249.34 351.74,248.40 353.55,247.44 355.35,246.47 357.15,245.48 358.95,244.47 360.75,243.44 362.56,242.40 364.36,241.34 366.16,240.26 367.97,239.16 369.77,238.04 371.57,236.91 373.37,235.75 375.18,234.58 376.98,233.39 378.78,232.18 380.58,230.95 382.38,229.71 384.19,228.45 385.99,227.17 387.79,225.87 389.60,224.56 391.40,223.24 393.20,221.90 395.00,220.54 396.81,219.17 398.61,217.78 400.41,216.39 402.21,214.98 404.01,213.56 405.82,212.12 407.62,210.68 409.42,209.23 411.23,207.78" fill="none" stroke="#d62728" stroke-width="1.0" stroke-opacity="1.0" stroke-linejoin="round"/>
<polyline points="249.00,284.44 250.80,284.03 252.60,283.62 254.41,283.20 256.21,282.77 258.01,282.33 259.81,281.89 261.62,281.43 263.42,280.96 265.22,280.49 267.02,280.00 268.83,279.50 270.63,279.00 272.43,278.48 274.24,277.95 276.04,277.41 277.84,276.86 279.64,276.29 281.44,275.72 283.25,275.13 285.05,274.53 286.85,273.92 288.65,273.29 290.46,272.65 292.26,271.99 294.06,271.32 295.87,270.64 297.67,269.94 299.47,269.22 301.27,268.50 303.07,267.75 304.88,266.99 306.68,266.22 308.48,265.43 310.28,264.63 312.09,263.82 313.89,262.99 315.69,262.15 317.50,261.29 319.30,260.42 321.10,259.53 322.90,258.64 324.70,257.73 326.51,256.80 328.31,255.87 330.11,254.92 331.92,253.96 333.72,252.99 335.52,252.00 337.32,251.00 339.12,249.99 340.93,248.97 342.73,247.93 344.53,246.89 346.33,245.83 348.14,244.75 349.94,243.67 351.74,242.57 353.55,241.46 355.35,240.33 357.15,239.19 358.95,238.04 360.75,236.87 362.56,235.68 364.36,234.47 366.16,233.25 367.97,232.01 369.77,230.76 371.57,229.48 373.37,228.19 375.18,226.88 376.98,225.56 378.78,224.21 380.58,222.85 382.38,221.48 384.19,220.08 385.99,218.67 387.79,217.25 389.60,215.81 391.40,214.35 393.20,212.88 395.00,211.40 396.81,209.90 398.61,208.38 400.41,206.86 402.21,205.32 404.01,203.77 405.82,202.21 407.62,200.65 409.42,199.07 411.23,197.48" fill="none" stroke="#9467bd" stroke-width="1.0" stroke-opacity="1.0" stroke-linejoin="round"/>
<polyline points="249.00,284.41 250.80,284.22 252.60,284.03 254.41,283.82 256.21,283.60 258.01,283.37 259.81,283.13 261.62,282.88 263.42,282.61 265.22,282.33 267.02,282.04 268.83,281.74 270.63,281.42 272.43,281.09 274.24,280.75 276.04,280.39 277.84,280.01 279.64,279.62 281.44,279.22 283.25,278.79 285.05,278.35 286.85,277.90 288.65,277.42 290.46,276.94 292.26,276.43 294.06,275.92 295.87,275.39 297.67,274.84 299.47,274.29 301.27,273.72 303.07,273.15 304.88,272.57 306.68,271.98 308.48,271.37 310.28,270.76 312.09,270.15 313.89,269.52 315.69,268.88 317.50,268.24 319.30,267.58 321.10,266.92 322.90,266.24 324.70,265.56 326.51,264.86 328.31,264.15 330.11,263.44 331.92,262.71 333.72,261.97 335.52,261.21 337.32,260.45 339.12,259.67 340.93,258.88 342.73,258.07 344.53,257.25 346.33,256.42 348.14,255.57 349.94,254.71 351.74,253.83 353.55,252.93 355.35,252.02 357.15,251.09 358.95,250.13 360.75,249.16 362.56,248.17 364.36,247.15 366.16,246.11 367.97,245.05 369.77,243.97 371.57,242.87 373.37,241.74 375.18,240.60 376.98,239.43 378.78,238.24 380.58,237.02 382.38,235.79 384.19,234.54 385.99,233.27 387.79,231.98 389.60,230.67 391.40,229.34 393.20,228.00 395.00,226.63 396.81,225.26 398.61,223.86 400.41,222.45 402.21,221.03 404.01,219.59 405.82,218.15 407.62,216.69 409.42,215.22 411.23,213.75" fill="none" stroke="#8c564b" stroke-width="1.0" stroke-opacity="1.0" stroke-linejoin="round"/>
<polyline points="249.00,284.44 250.80,283.99 252.60,283.54 254.41,283.07 256.21,282.60 258.01,282.12 259.81,281.64 261.62,281.14 263.42,280.63 265.22,280.12 267.02,279.59 268.83,279.06 270.63,278.52 272.43,277.96 274.24,277.40 276.04,276.83 277.84,276.24 279.64,275.65 281.44,275.04 283.25,274.42 285.05,273.79 286.85,273.15 288.65,272.50 290.46,271.83 292.26,271.15 294.06,270.45 295.87,269.74 297.67,269.01 299.47,268.27 301.27,267.52 303.07,266.75 304.88,265.96 306.68,265.16 308.48,264.34 310.28,263.51 312.09,262.67 313.89,261.81 315.69,260.94 317.50,260.05 319.30,259.15 321.10,258.23 322.90,257.30 324.70,256.36 326.51,255.41 328.31,254.44 330.11,253.46 331.92,252.46 333.72,251.45 335.52,250.43 337.32,249.40 339.12,248.36 340.93,247.30 342.73,246.23 344.53,245.15 346.33,244.05 348.14,242.94 349.94,241.82 351.74,240.69 353.55,239.54 355.35,238.37 357.15,237.20 358.95,236.00 360.75,234.79 362.56,233.56 364.36,232.32 366.16,231.06 367.97,229.78 369.77,228.48 371.57,227.17 373.37,225.83 375.18,224.48 376.98,223.11 378.78,221.73 380.58,220.32 382.38,218.90 384.19,217.47 385.99,216.01 387.79,214.54 389.60,213.06 391.40,211.55 393.20,210.04 395.00,208.51 396.81,206.96 398.61,205.40 400.41,203.83 402.21,202.24 404.01,200.65 405.82,199.04 407.62,197.42 409.42,195.80 411.23,194.16" fill="none" stroke="#e377c2" stroke-width="1.0" stroke-opacity="1.0" stroke-linejoin="round"/>
<polyline points="249.00,284.46 250.80,283.83 252.60,283.20 254.41,282.56 256.21,281.91 258.01,281.27 259.81,280.61 261.62,279.95 263.42,279.28 265.22,278.60 267.02,277.92 268.83,277.22 270.63,276.53 272.43,275.82 274.24,275.11 276.04,274.39 277.84,273.66 279.64,272.92 281.44,272.18 283.25,271.43 285.05,270.67 286.85,269.90 288.65,269.12 290.46,268.33 292.26,267.53 294.06,266.71 295.87,265.89 297.67,265.05 299.47,264.19 301.27,263.33 303.07,262.45 304.88,261.56 306.68,260.66 308.48,259.74 310.28,258.81 312.09,257.87 313.89,256.91 315.69,255.95 317.50,254.97 319.30,253.98 321.10,252.98 322.90,251.97 324.70,250.95 326.51,249.91 328.31,248.87 330.11,247.81 331.92,246.74 333.72,245.66 335.52,244.57 337.32,243.47 339.12,242.36 340.93,241.23 342.73,240.10 344.53,238.95 346.33,237.79 348.14,236.62 349.94,235.44 351.74,234.24 353.55,233.03 355.35,231.81 357.15,230.58 358.95,229.33 360.75,228.07 362.56,226.79 364.36,225.50 366.16,224.19 367.97,222.87 369.77,221.53 371.57,220.17 373.37,218.80 375.18,217.42 376.98,216.02 378.78,214.61 380.58,213.18 382.38,211.73 384.19,210.27 385.99,208.80 387.79,207.31 389.60,205.81 391.40,204.30 393.20,202.77 395.00,201.23 396.81,199.67 398.61,198.11 400.41,196.53 402.21,194.94 404.01,193.35 405.82,191.74 407.62,190.12 409.42,188.50 411.23,186.87" fill="none" stroke="#7f7f7f" stroke-width="1.0" stroke-opacity="1.0" stroke-linejoin="round"/>
<polyline points="249.00,284.48 250.80,283.65 252.60,282.83 254.41,282.00 256.21,281.17 258.01,280.34 259.81,279.50 261.62,278.66 263.42,277.81 265.22,276.96 267.02,276.10 268.83,275.24 270.63,274.38 272.43,273.51 274.24,272.64 276.04,271.76 277.84,270.88 279.64,269.99 281.44,269.10 283.25,268.20 285.05,267.30 286.85,266.39 288.65,265.48 290.46,264.55 292.26,263.62 294.06,262.68 295.87,261.74 297.67,260.78 299.47,259.81 301.27,258.83 303.07,257.85 304.88,256.85 306.68,255.85 308.48,254.83 310.28,253.81 312.09,252.77 313.89,251.73 315.69,250.68 317.50,249.63 319.30,248.56 321.10,247.49 322.90,246.40 324.70,245.31 326.51,244.21 328.31,243.10 330.11,241.98 331.92,240.85 333.72,239.72 335.52,238.57 337.32,237.41 339.12,236.24 340.93,235.07 342.73,233.88 344.53,232.68 346.33,231.46 348.14,230.24 349.94,229.01 351.74,227.76 353.55,226.50 355.35,225.23 357.15,223.94 358.95,222.64 360.75,221.33 362.56,220.00 364.36,218.66 366.16,217.31 367.97,215.94 369.77,214.56 371.57,213.16 373.37,211.75 375.18,210.33 376.98,208.89 378.78,207.44 380.58,205.97 382.38,204.50 384.19,203.00 385.99,201.50 387.79,199.98 389.60,198.45 391.40,196.91 393.20,195.35 395.00,193.79 396.81,192.21 398.61,190.62 400.41,189.02 402.21,187.41 404.01,185.79 405.82,184.16 407.62,182.53 409.42,180.88 411.23,179.23" fill="none" stroke="#bcbd22" stroke-width="1.0" stroke-opacity="1.0" stroke-linejoin="round"/>
<rect x="244.30" y="177.80" width="57.6" height="92.8" rx="1.5" fill="#fff" fill-opacity="0.8" stroke="#d0d0d0" stroke-width="0.6"/>
<line x1="245.80" y1="183.20" x2="259.60" y2="183.20" stroke="#1f77b4" stroke-width="1.5" stroke-opacity="0.9"/>
<text x="264.40" y="186.40" font-family="Liberation Sans, sans-serif" stroke="#111" stroke-width="0.12" font-size="6.7" fill="#111">MadGan</text>
<line x1="245.80" y1="193.30" x2="259.60" y2="193.30" stroke="#ff7f0e" stroke-width="1.1" stroke-opacity="0.8"/>
<text x="264.40" y="196.50" font-family="Liberation Sans, sans-serif" stroke="#111" stroke-width="0.12" font-size="6.7" fill="#111">AutoEn</text>
<line x1="245.80" y1="203.40" x2="259.60" y2="203.40" stroke="#2ca02c" stroke-width="1.0" stroke-opacity="0.7"/>
<text x="264.40" y="206.60" font-family="Liberation Sans, sans-serif" stroke="#111" stroke-width="0.12" font-size="6.7" fill="#111">VanLstm</text>
<line x1="245.80" y1="213.50" x2="259.60" y2="213.50" stroke="#d62728" stroke-width="1.1" stroke-opacity="0.8"/>
<text x="264.40" y="216.70" font-family="Liberation Sans, sans-serif" stroke="#111" stroke-width="0.12" font-size="6.7" fill="#111">IsoF</text>
<line x1="245.80" y1="223.60" x2="259.60" y2="223.60" stroke="#9467bd" stroke-width="1.6" stroke-opacity="0.8"/>
<text x="264.40" y="226.80" font-family="Liberation Sans, sans-serif" stroke="#111" stroke-width="0.12" font-size="6.7" fill="#111">GMM</text>
<line x1="245.80" y1="233.70" x2="259.60" y2="233.70" stroke="#8c564b" stroke-width="1.3" stroke-opacity="0.5"/>
<text x="264.40" y="236.90" font-family="Liberation Sans, sans-serif" stroke="#111" stroke-width="0.12" font-size="6.7" fill="#111">OCSvm</text>
<line x1="245.80" y1="243.80" x2="259.60" y2="243.80" stroke="#e377c2" stroke-width="1.7" stroke-opacity="0.4"/>
<text x="264.40" y="247.00" font-family="Liberation Sans, sans-serif" stroke="#111" stroke-width="0.12" font-size="6.7" fill="#111">BiLstmGan</text>
<line x1="245.80" y1="253.90" x2="259.60" y2="253.90" stroke="#7f7f7f" stroke-width="1.2" stroke-opacity="0.8"/>
<text x="264.40" y="257.10" font-family="Liberation Sans, sans-serif" stroke="#111" stroke-width="0.12" font-size="6.7" fill="#111">CnnGan</text>
<line x1="245.80" y1="264.00" x2="259.60" y2="264.00" stroke="#bcbd22" stroke-width="1.1" stroke-opacity="0.8"/>
<text x="264.40" y="267.20" font-family="Liberation Sans, sans-serif" stroke="#111" stroke-width="0.12" font-size="6.7" fill="#111">TAnoGan</text>
<rect x="241.00" y="174.60" width="178.4" height="116.0" fill="none" stroke="#999" stroke-width="1.2"/>
<line x1="249.00" y1="290.60" x2="249.00" y2="293.00" stroke="#000" stroke-width="0.6"/>
<text x="249.00" y="298.80" font-family="Liberation Sans, sans-serif" stroke="#000" stroke-width="0.08" font-size="5.5" fill="#111" text-anchor="middle">0</text>
<line x1="285.05" y1="290.60" x2="285.05" y2="293.00" stroke="#000" stroke-width="0.6"/>
<text x="285.05" y="298.80" font-family="Liberation Sans, sans-serif" stroke="#000" stroke-width="0.08" font-size="5.5" fill="#111" text-anchor="middle">10</text>
<line x1="321.10" y1="290.60" x2="321.10" y2="293.00" stroke="#000" stroke-width="0.6"/>
<text x="321.10" y="298.80" font-family="Liberation Sans, sans-serif" stroke="#000" stroke-width="0.08" font-size="5.5" fill="#111" text-anchor="middle">20</text>
<line x1="357.15" y1="290.60" x2="357.15" y2="293.00" stroke="#000" stroke-width="0.6"/>
<text x="357.15" y="298.80" font-family="Liberation Sans, sans-serif" stroke="#000" stroke-width="0.08" font-size="5.5" fill="#111" text-anchor="middle">30</text>
<line x1="393.20" y1="290.60" x2="393.20" y2="293.00" stroke="#000" stroke-width="0.6"/>
<text x="393.20" y="298.80" font-family="Liberation Sans, sans-serif" stroke="#000" stroke-width="0.08" font-size="5.5" fill="#111" text-anchor="middle">40</text>
<line x1="238.60" y1="285.23" x2="241.00" y2="285.23" stroke="#000" stroke-width="0.6"/>
<text x="236.70" y="287.13" font-family="Liberation Sans, sans-serif" stroke="#000" stroke-width="0.08" font-size="5.5" fill="#111" text-anchor="end">0</text>
<line x1="238.60" y1="268.60" x2="241.00" y2="268.60" stroke="#000" stroke-width="0.6"/>
<text x="236.70" y="270.50" font-family="Liberation Sans, sans-serif" stroke="#000" stroke-width="0.08" font-size="5.5" fill="#111" text-anchor="end">5</text>
<line x1="238.60" y1="251.96" x2="241.00" y2="251.96" stroke="#000" stroke-width="0.6"/>
<text x="236.70" y="253.86" font-family="Liberation Sans, sans-serif" stroke="#000" stroke-width="0.08" font-size="5.5" fill="#111" text-anchor="end">10</text>
<line x1="238.60" y1="235.33" x2="241.00" y2="235.33" stroke="#000" stroke-width="0.6"/>
<text x="236.70" y="237.23" font-family="Liberation Sans, sans-serif" stroke="#000" stroke-width="0.08" font-size="5.5" fill="#111" text-anchor="end">15</text>
<line x1="238.60" y1="218.69" x2="241.00" y2="218.69" stroke="#000" stroke-width="0.6"/>
<text x="236.70" y="220.59" font-family="Liberation Sans, sans-serif" stroke="#000" stroke-width="0.08" font-size="5.5" fill="#111" text-anchor="end">20</text>
<line x1="238.60" y1="202.06" x2="241.00" y2="202.06" stroke="#000" stroke-width="0.6"/>
<text x="236.70" y="203.96" font-family="Liberation Sans, sans-serif" stroke="#000" stroke-width="0.08" font-size="5.5" fill="#111" text-anchor="end">25</text>
<line x1="238.60" y1="185.42" x2="241.00" y2="185.42" stroke="#000" stroke-width="0.6"/>
<text x="236.70" y="187.32" font-family="Liberation Sans, sans-serif" stroke="#000" stroke-width="0.08" font-size="5.5" fill="#111" text-anchor="end">30</text>
<text x="330.20" y="171.05" font-family="Liberation Sans, sans-serif" stroke="#111" stroke-width="0.2" font-size="9.1" fill="#111" text-anchor="middle" textLength="37.0" lengthAdjust="spacingAndGlyphs">Precision</text>
<text x="330.20" y="308.70" font-family="Liberation Sans, sans-serif" stroke="#111" stroke-width="0.2" font-size="9.3" fill="#111" text-anchor="middle" textLength="31.7" lengthAdjust="spacingAndGlyphs">dataset</text>
<text transform="translate(226.20,232.60) rotate(-90)" x="0" y="0" font-family="Liberation Sans, sans-serif" stroke="#111" stroke-width="0.2" font-size="9.6" fill="#111" text-anchor="middle" textLength="69.6" lengthAdjust="spacingAndGlyphs">cumulative rank</text>
<polyline points="468.70,284.32 470.50,283.67 472.31,283.00 474.11,282.31 475.91,281.59 477.71,280.86 479.51,280.11 481.32,279.32 483.12,278.52 484.92,277.69 486.72,276.83 488.53,275.95 490.33,275.03 492.13,274.09 493.94,273.12 495.74,272.12 497.54,271.08 499.34,270.02 501.14,268.92 502.95,267.79 504.75,266.63 506.55,265.45 508.36,264.24 510.16,263.01 511.96,261.77 513.76,260.52 515.56,259.26 517.37,258.00 519.17,256.74 520.97,255.48 522.77,254.23 524.58,252.99 526.38,251.75 528.18,250.53 529.99,249.31 531.79,248.10 533.59,246.89 535.39,245.70 537.19,244.50 539.00,243.31 540.80,242.13 542.60,240.94 544.40,239.76 546.21,238.58 548.01,237.40 549.81,236.22 551.62,235.04 553.42,233.86 555.22,232.68 557.02,231.50 558.83,230.32 560.63,229.13 562.43,227.94 564.23,226.75 566.03,225.55 567.84,224.35 569.64,223.15 571.44,221.94 573.25,220.73 575.05,219.52 576.85,218.30 578.65,217.07 580.45,215.85 582.26,214.62 584.06,213.38 585.86,212.15 587.66,210.90 589.47,209.66 591.27,208.42 593.07,207.17 594.88,205.91 596.68,204.66 598.48,203.40 600.28,202.14 602.09,200.88 603.89,199.62 605.69,198.35 607.49,197.08 609.29,195.81 611.10,194.53 612.90,193.25 614.70,191.97 616.50,190.69 618.31,189.41 620.11,188.12 621.91,186.83 623.71,185.54 625.52,184.25 627.32,182.95 629.12,181.66 630.92,180.36" fill="none" stroke="#1f77b4" stroke-width="1.0" stroke-opacity="1.0" stroke-linejoin="round"/>
<polyline points="468.70,284.33 470.50,283.72 472.31,283.09 474.11,282.45 475.91,281.78 477.71,281.10 479.51,280.39 481.32,279.66 483.12,278.90 484.92,278.12 486.72,277.31 488.53,276.48 490.33,275.62 492.13,274.72 493.94,273.80 495.74,272.85 497.54,271.87 499.34,270.86 501.14,269.81 502.95,268.74 504.75,267.64 506.55,266.50 508.36,265.35 510.16,264.17 511.96,262.98 513.76,261.78 515.56,260.57 517.37,259.35 519.17,258.13 520.97,256.91 522.77,255.70 524.58,254.49 526.38,253.29 528.18,252.09 529.99,250.89 531.79,249.71 533.59,248.52 535.39,247.34 537.19,246.16 539.00,244.99 540.80,243.81 542.60,242.64 544.40,241.47 546.21,240.30 548.01,239.12 549.81,237.95 551.62,236.77 553.42,235.60 555.22,234.42 557.02,233.24 558.83,232.06 560.63,230.87 562.43,229.69 564.23,228.50 566.03,227.30 567.84,226.10 569.64,224.90 571.44,223.70 573.25,222.49 575.05,221.28 576.85,220.06 578.65,218.84 580.45,217.62 582.26,216.39 584.06,215.16 585.86,213.92 587.66,212.68 589.47,211.44 591.27,210.20 593.07,208.95 594.88,207.70 596.68,206.45 598.48,205.19 600.28,203.93 602.09,202.67 603.89,201.41 605.69,200.14 607.49,198.87 609.29,197.59 611.10,196.32 612.90,195.04 614.70,193.76 616.50,192.47 618.31,191.19 620.11,189.90 621.91,188.61 623.71,187.31 625.52,186.02 627.32,184.72 629.12,183.42 630.92,182.12" fill="none" stroke="#ff7f0e" stroke-width="1.0" stroke-opacity="1.0" stroke-linejoin="round"/>
<polyline points="468.70,284.30 470.50,283.91 472.31,283.49 474.11,283.05 475.91,282.60 477.71,282.12 479.51,281.61 481.32,281.08 483.12,280.52 484.92,279.93 486.72,279.32 488.53,278.67 490.33,278.00 492.13,277.30 493.94,276.57 495.74,275.80 497.54,275.00 499.34,274.17 501.14,273.30 502.95,272.40 504.75,271.46 506.55,270.49 508.36,269.50 510.16,268.47 511.96,267.43 513.76,266.37 515.56,265.29 517.37,264.21 519.17,263.12 520.97,262.02 522.77,260.93 524.58,259.83 526.38,258.73 528.18,257.64 529.99,256.55 531.79,255.46 533.59,254.36 535.39,253.27 537.19,252.18 539.00,251.09 540.80,249.99 542.60,248.89 544.40,247.79 546.21,246.69 548.01,245.58 549.81,244.47 551.62,243.36 553.42,242.24 555.22,241.12 557.02,240.00 558.83,238.87 560.63,237.74 562.43,236.60 564.23,235.46 566.03,234.32 567.84,233.16 569.64,232.01 571.44,230.85 573.25,229.68 575.05,228.51 576.85,227.34 578.65,226.16 580.45,224.97 582.26,223.78 584.06,222.59 585.86,221.39 587.66,220.18 589.47,218.98 591.27,217.76 593.07,216.54 594.88,215.32 596.68,214.09 598.48,212.86 600.28,211.62 602.09,210.37 603.89,209.13 605.69,207.87 607.49,206.62 609.29,205.36 611.10,204.09 612.90,202.82 614.70,201.55 616.50,200.27 618.31,198.99 620.11,197.70 621.91,196.41 623.71,195.11 625.52,193.82 627.32,192.52 629.12,191.21 630.92,189.91" fill="none" stroke="#2ca02c" stroke-width="1.0" stroke-opacity="1.0" stroke-linejoin="round"/>
<polyline points="468.70,284.30 470.50,283.79 472.31,283.26 474.11,282.71 475.91,282.14 477.71,281.54 479.51,280.91 481.32,280.26 483.12,279.59 484.92,278.88 486.72,278.14 488.53,277.38 490.33,276.58 492.13,275.75 493.94,274.89 495.74,273.99 497.54,273.06 499.34,272.09 501.14,271.09 502.95,270.05 504.75,268.98 506.55,267.87 508.36,266.74 510.16,265.59 511.96,264.42 513.76,263.23 515.56,262.04 517.37,260.84 519.17,259.64 520.97,258.45 522.77,257.27 524.58,256.09 526.38,254.92 528.18,253.76 529.99,252.60 531.79,251.46 533.59,250.32 535.39,249.19 537.19,248.06 539.00,246.94 540.80,245.82 542.60,244.70 544.40,243.59 546.21,242.47 548.01,241.36 549.81,240.24 551.62,239.12 553.42,238.01 555.22,236.88 557.02,235.76 558.83,234.63 560.63,233.50 562.43,232.36 564.23,231.22 566.03,230.07 567.84,228.91 569.64,227.75 571.44,226.58 573.25,225.41 575.05,224.23 576.85,223.04 578.65,221.84 580.45,220.64 582.26,219.43 584.06,218.22 585.86,217.00 587.66,215.77 589.47,214.54 591.27,213.31 593.07,212.06 594.88,210.82 596.68,209.56 598.48,208.31 600.28,207.04 602.09,205.78 603.89,204.50 605.69,203.23 607.49,201.94 609.29,200.66 611.10,199.36 612.90,198.07 614.70,196.77 616.50,195.46 618.31,194.15 620.11,192.84 621.91,191.52 623.71,190.20 625.52,188.87 627.32,187.54 629.12,186.21 630.92,184.88" fill="none" stroke="#d62728" stroke-width="1.0" stroke-opacity="1.0" stroke-linejoin="round"/>
<polyline points="468.70,284.32 470.50,283.66 472.31,282.98 474.11,282.28 475.91,281.56 477.71,280.82 479.51,280.06 481.32,279.27 483.12,278.46 484.92,277.62 486.72,276.75 488.53,275.86 490.33,274.94 492.13,273.99 493.94,273.01 495.74,272.00 497.54,270.95 499.34,269.88 501.14,268.77 502.95,267.63 504.75,266.47 506.55,265.27 508.36,264.06 510.16,262.82 511.96,261.57 513.76,260.31 515.56,259.04 517.37,257.77 519.17,256.51 520.97,255.25 522.77,253.99 524.58,252.74 526.38,251.50 528.18,250.27 529.99,249.05 531.79,247.84 533.59,246.63 535.39,245.44 537.19,244.24 539.00,243.05 540.80,241.87 542.60,240.68 544.40,239.50 546.21,238.32 548.01,237.14 549.81,235.97 551.62,234.79 553.42,233.61 555.22,232.43 557.02,231.25 558.83,230.07 560.63,228.88 562.43,227.69 564.23,226.50 566.03,225.30 567.84,224.10 569.64,222.90 571.44,221.69 573.25,220.48 575.05,219.26 576.85,218.04 578.65,216.81 580.45,215.58 582.26,214.35 584.06,213.11 585.86,211.87 587.66,210.62 589.47,209.37 591.27,208.12 593.07,206.86 594.88,205.60 596.68,204.34 598.48,203.08 600.28,201.81 602.09,200.54 603.89,199.27 605.69,197.99 607.49,196.71 609.29,195.43 611.10,194.15 612.90,192.86 614.70,191.57 616.50,190.28 618.31,188.98 620.11,187.69 621.91,186.39 623.71,185.08 625.52,183.78 627.32,182.47 629.12,181.17 630.92,179.86" fill="none" stroke="#9467bd" stroke-width="1.0" stroke-opacity="1.0" stroke-linejoin="round"/>
<polyline points="468.70,284.30 470.50,284.17 472.31,284.02 474.11,283.86 475.91,283.67 477.71,283.45 479.51,283.22 481.32,282.96 483.12,282.68 484.92,282.38 486.72,282.05 488.53,281.70 490.33,281.32 492.13,280.92 493.94,280.49 495.74,280.03 497.54,279.55 499.34,279.03 501.14,278.48 502.95,277.89 504.75,277.28 506.55,276.62 508.36,275.93 510.16,275.22 511.96,274.47 513.76,273.69 515.56,272.88 517.37,272.05 519.17,271.20 520.97,270.32 522.77,269.42 524.58,268.51 526.38,267.57 528.18,266.61 529.99,265.62 531.79,264.62 533.59,263.60 535.39,262.55 537.19,261.49 539.00,260.41 540.80,259.31 542.60,258.19 544.40,257.05 546.21,255.90 548.01,254.74 549.81,253.57 551.62,252.38 553.42,251.19 555.22,249.99 557.02,248.79 558.83,247.58 560.63,246.37 562.43,245.15 564.23,243.94 566.03,242.73 567.84,241.51 569.64,240.30 571.44,239.10 573.25,237.89 575.05,236.69 576.85,235.49 578.65,234.29 580.45,233.10 582.26,231.90 584.06,230.71 585.86,229.51 587.66,228.32 589.47,227.12 591.27,225.92 593.07,224.72 594.88,223.52 596.68,222.32 598.48,221.11 600.28,219.90 602.09,218.69 603.89,217.47 605.69,216.26 607.49,215.04 609.29,213.81 611.10,212.59 612.90,211.36 614.70,210.13 616.50,208.90 618.31,207.67 620.11,206.43 621.91,205.19 623.71,203.95 625.52,202.71 627.32,201.46 629.12,200.22 630.92,198.97" fill="none" stroke="#8c564b" stroke-width="1.0" stroke-opacity="1.0" stroke-linejoin="round"/>
<polyline points="468.70,284.33 470.50,283.68 472.31,283.01 474.11,282.33 475.91,281.62 477.71,280.90 479.51,280.15 481.32,279.38 483.12,278.58 484.92,277.76 486.72,276.91 488.53,276.03 490.33,275.13 492.13,274.19 493.94,273.23 495.74,272.23 497.54,271.21 499.34,270.15 501.14,269.06 502.95,267.94 504.75,266.79 506.55,265.62 508.36,264.42 510.16,263.20 511.96,261.97 513.76,260.72 515.56,259.47 517.37,258.22 519.17,256.97 520.97,255.72 522.77,254.48 524.58,253.25 526.38,252.02 528.18,250.81 529.99,249.60 531.79,248.40 533.59,247.20 535.39,246.01 537.19,244.83 539.00,243.65 540.80,242.47 542.60,241.30 544.40,240.12 546.21,238.95 548.01,237.78 549.81,236.61 551.62,235.44 553.42,234.27 555.22,233.10 557.02,231.93 558.83,230.75 560.63,229.57 562.43,228.39 564.23,227.20 566.03,226.02 567.84,224.82 569.64,223.63 571.44,222.42 573.25,221.22 575.05,220.01 576.85,218.80 578.65,217.58 580.45,216.35 582.26,215.13 584.06,213.90 585.86,212.66 587.66,211.43 589.47,210.18 591.27,208.94 593.07,207.69 594.88,206.44 596.68,205.19 598.48,203.93 600.28,202.68 602.09,201.41 603.89,200.15 605.69,198.88 607.49,197.61 609.29,196.34 611.10,195.06 612.90,193.78 614.70,192.50 616.50,191.22 618.31,189.93 620.11,188.64 621.91,187.35 623.71,186.06 625.52,184.76 627.32,183.46 629.12,182.16 630.92,180.86" fill="none" stroke="#e377c2" stroke-width="1.0" stroke-opacity="1.0" stroke-linejoin="round"/>
<polyline points="468.70,284.30 470.50,283.98 472.31,283.63 474.11,283.26 475.91,282.88 477.71,282.46 479.51,282.03 481.32,281.57 483.12,281.08 484.92,280.57 486.72,280.03 488.53,279.46 490.33,278.86 492.13,278.24 493.94,277.59 495.74,276.90 497.54,276.18 499.34,275.43 501.14,274.64 502.95,273.82 504.75,272.97 506.55,272.08 508.36,271.16 510.16,270.22 511.96,269.25 513.76,268.26 515.56,267.25 517.37,266.23 519.17,265.19 520.97,264.15 522.77,263.10 524.58,262.04 526.38,260.98 528.18,259.91 529.99,258.84 531.79,257.76 533.59,256.68 535.39,255.59 537.19,254.49 539.00,253.39 540.80,252.28 542.60,251.17 544.40,250.05 546.21,248.92 548.01,247.79 549.81,246.66 551.62,245.51 553.42,244.37 555.22,243.22 557.02,242.06 558.83,240.90 560.63,239.74 562.43,238.57 564.23,237.40 566.03,236.23 567.84,235.05 569.64,233.87 571.44,232.69 573.25,231.51 575.05,230.32 576.85,229.13 578.65,227.93 580.45,226.74 582.26,225.54 584.06,224.33 585.86,223.12 587.66,221.91 589.47,220.70 591.27,219.48 593.07,218.25 594.88,217.03 596.68,215.79 598.48,214.56 600.28,213.32 602.09,212.08 603.89,210.83 605.69,209.58 607.49,208.32 609.29,207.06 611.10,205.80 612.90,204.53 614.70,203.26 616.50,201.98 618.31,200.71 620.11,199.42 621.91,198.14 623.71,196.85 625.52,195.56 627.32,194.27 629.12,192.97 630.92,191.67" fill="none" stroke="#7f7f7f" stroke-width="1.0" stroke-opacity="1.0" stroke-linejoin="round"/>
<polyline points="468.70,284.33 470.50,283.71 472.31,283.07 474.11,282.42 475.91,281.75 477.71,281.05 479.51,280.33 481.32,279.59 483.12,278.83 484.92,278.03 486.72,277.22 488.53,276.37 490.33,275.50 492.13,274.60 493.94,273.67 495.74,272.71 497.54,271.72 499.34,270.70 501.14,269.65 502.95,268.56 504.75,267.45 506.55,266.31 508.36,265.15 510.16,263.97 511.96,262.77 513.76,261.56 515.56,260.34 517.37,259.12 519.17,257.89 520.97,256.67 522.77,255.45 524.58,254.24 526.38,253.03 528.18,251.83 529.99,250.64 531.79,249.45 533.59,248.26 535.39,247.08 537.19,245.91 539.00,244.73 540.80,243.56 542.60,242.38 544.40,241.21 546.21,240.04 548.01,238.87 549.81,237.70 551.62,236.52 553.42,235.35 555.22,234.17 557.02,232.99 558.83,231.81 560.63,230.63 562.43,229.44 564.23,228.25 566.03,227.06 567.84,225.86 569.64,224.66 571.44,223.45 573.25,222.24 575.05,221.02 576.85,219.80 578.65,218.58 580.45,217.35 582.26,216.12 584.06,214.88 585.86,213.64 587.66,212.40 589.47,211.15 591.27,209.90 593.07,208.65 594.88,207.39 596.68,206.13 598.48,204.87 600.28,203.60 602.09,202.33 603.89,201.06 605.69,199.78 607.49,198.50 609.29,197.22 611.10,195.93 612.90,194.65 614.70,193.35 616.50,192.06 618.31,190.76 620.11,189.46 621.91,188.16 623.71,186.86 625.52,185.55 627.32,184.24 629.12,182.93 630.92,181.61" fill="none" stroke="#bcbd22" stroke-width="1.0" stroke-opacity="1.0" stroke-linejoin="round"/>
<rect x="464.00" y="177.80" width="57.6" height="92.8" rx="1.5" fill="#fff" fill-opacity="0.8" stroke="#d0d0d0" stroke-width="0.6"/>
<line x1="465.50" y1="183.20" x2="479.30" y2="183.20" stroke="#1f77b4" stroke-width="1.5" stroke-opacity="0.9"/>
<text x="484.10" y="186.40" font-family="Liberation Sans, sans-serif" stroke="#111" stroke-width="0.12" font-size="6.7" fill="#111">MadGan</text>
<line x1="465.50" y1="193.30" x2="479.30" y2="193.30" stroke="#ff7f0e" stroke-width="1.1" stroke-opacity="0.8"/>
<text x="484.10" y="196.50" font-family="Liberation Sans, sans-serif" stroke="#111" stroke-width="0.12" font-size="6.7" fill="#111">AutoEn</text>
<line x1="465.50" y1="203.40" x2="479.30" y2="203.40" stroke="#2ca02c" stroke-width="1.0" stroke-opacity="0.7"/>
<text x="484.10" y="206.60" font-family="Liberation Sans, sans-serif" stroke="#111" stroke-width="0.12" font-size="6.7" fill="#111">VanLstm</text>
<line x1="465.50" y1="213.50" x2="479.30" y2="213.50" stroke="#d62728" stroke-width="1.1" stroke-opacity="0.8"/>
<text x="484.10" y="216.70" font-family="Liberation Sans, sans-serif" stroke="#111" stroke-width="0.12" font-size="6.7" fill="#111">IsoF</text>
<line x1="465.50" y1="223.60" x2="479.30" y2="223.60" stroke="#9467bd" stroke-width="1.6" stroke-opacity="0.8"/>
<text x="484.10" y="226.80" font-family="Liberation Sans, sans-serif" stroke="#111" stroke-width="0.12" font-size="6.7" fill="#111">GMM</text>
<line x1="465.50" y1="233.70" x2="479.30" y2="233.70" stroke="#8c564b" stroke-width="1.3" stroke-opacity="0.5"/>
<text x="484.10" y="236.90" font-family="Liberation Sans, sans-serif" stroke="#111" stroke-width="0.12" font-size="6.7" fill="#111">OCSvm</text>
<line x1="465.50" y1="243.80" x2="479.30" y2="243.80" stroke="#e377c2" stroke-width="1.7" stroke-opacity="0.4"/>
<text x="484.10" y="247.00" font-family="Liberation Sans, sans-serif" stroke="#111" stroke-width="0.12" font-size="6.7" fill="#111">BiLstmGan</text>
<line x1="465.50" y1="253.90" x2="479.30" y2="253.90" stroke="#7f7f7f" stroke-width="1.2" stroke-opacity="0.8"/>
<text x="484.10" y="257.10" font-family="Liberation Sans, sans-serif" stroke="#111" stroke-width="0.12" font-size="6.7" fill="#111">CnnGan</text>
<line x1="465.50" y1="264.00" x2="479.30" y2="264.00" stroke="#bcbd22" stroke-width="1.1" stroke-opacity="0.8"/>
<text x="484.10" y="267.20" font-family="Liberation Sans, sans-serif" stroke="#111" stroke-width="0.12" font-size="6.7" fill="#111">TAnoGan</text>
<rect x="460.70" y="174.60" width="178.4" height="116.0" fill="none" stroke="#999" stroke-width="1.2"/>
<line x1="468.70" y1="290.60" x2="468.70" y2="293.00" stroke="#000" stroke-width="0.6"/>
<text x="468.70" y="298.80" font-family="Liberation Sans, sans-serif" stroke="#000" stroke-width="0.08" font-size="5.5" fill="#111" text-anchor="middle">0</text>
<line x1="504.75" y1="290.60" x2="504.75" y2="293.00" stroke="#000" stroke-width="0.6"/>
<text x="504.75" y="298.80" font-family="Liberation Sans, sans-serif" stroke="#000" stroke-width="0.08" font-size="5.5" fill="#111" text-anchor="middle">10</text>
<line x1="540.80" y1="290.60" x2="540.80" y2="293.00" stroke="#000" stroke-width="0.6"/>
<text x="540.80" y="298.80" font-family="Liberation Sans, sans-serif" stroke="#000" stroke-width="0.08" font-size="5.5" fill="#111" text-anchor="middle">20</text>
<line x1="576.85" y1="290.60" x2="576.85" y2="293.00" stroke="#000" stroke-width="0.6"/>
<text x="576.85" y="298.80" font-family="Liberation Sans, sans-serif" stroke="#000" stroke-width="0.08" font-size="5.5" fill="#111" text-anchor="middle">30</text>
<line x1="612.90" y1="290.60" x2="612.90" y2="293.00" stroke="#000" stroke-width="0.6"/>
<text x="612.90" y="298.80" font-family="Liberation Sans, sans-serif" stroke="#000" stroke-width="0.08" font-size="5.5" fill="#111" text-anchor="middle">40</text>
<line x1="458.30" y1="285.40" x2="460.70" y2="285.40" stroke="#000" stroke-width="0.6"/>
<text x="456.40" y="287.30" font-family="Liberation Sans, sans-serif" stroke="#000" stroke-width="0.08" font-size="5.5" fill="#111" text-anchor="end">0</text>
<line x1="458.30" y1="260.25" x2="460.70" y2="260.25" stroke="#000" stroke-width="0.6"/>
<text x="456.40" y="262.15" font-family="Liberation Sans, sans-serif" stroke="#000" stroke-width="0.08" font-size="5.5" fill="#111" text-anchor="end">10</text>
<line x1="458.30" y1="235.10" x2="460.70" y2="235.10" stroke="#000" stroke-width="0.6"/>
<text x="456.40" y="237.00" font-family="Liberation Sans, sans-serif" stroke="#000" stroke-width="0.08" font-size="5.5" fill="#111" text-anchor="end">20</text>
<line x1="458.30" y1="209.95" x2="460.70" y2="209.95" stroke="#000" stroke-width="0.6"/>
<text x="456.40" y="211.85" font-family="Liberation Sans, sans-serif" stroke="#000" stroke-width="0.08" font-size="5.5" fill="#111" text-anchor="end">30</text>
<line x1="458.30" y1="184.80" x2="460.70" y2="184.80" stroke="#000" stroke-width="0.6"/>
<text x="456.40" y="186.70" font-family="Liberation Sans, sans-serif" stroke="#000" stroke-width="0.08" font-size="5.5" fill="#111" text-anchor="end">40</text>
<text x="549.90" y="171.05" font-family="Liberation Sans, sans-serif" stroke="#111" stroke-width="0.2" font-size="9.1" fill="#111" text-anchor="middle" textLength="24.4" lengthAdjust="spacingAndGlyphs">Recall</text>
<text x="549.90" y="308.70" font-family="Liberation Sans, sans-serif" stroke="#111" stroke-width="0.2" font-size="9.3" fill="#111" text-anchor="middle" textLength="31.7" lengthAdjust="spacingAndGlyphs">dataset</text>
<text transform="translate(445.90,232.60) rotate(-90)" x="0" y="0" font-family="Liberation Sans, sans-serif" stroke="#111" stroke-width="0.2" font-size="9.6" fill="#111" text-anchor="middle" textLength="69.6" lengthAdjust="spacingAndGlyphs">cumulative rank</text>
<text x="45.6" y="333.6" font-family="Liberation Serif, serif" font-size="13.7" fill="#000" stroke="#000" stroke-width="0.15">Fig. 3: The cumulative ranking obtained by individually ranking each model on the datasets</text>
</svg></body></html>
